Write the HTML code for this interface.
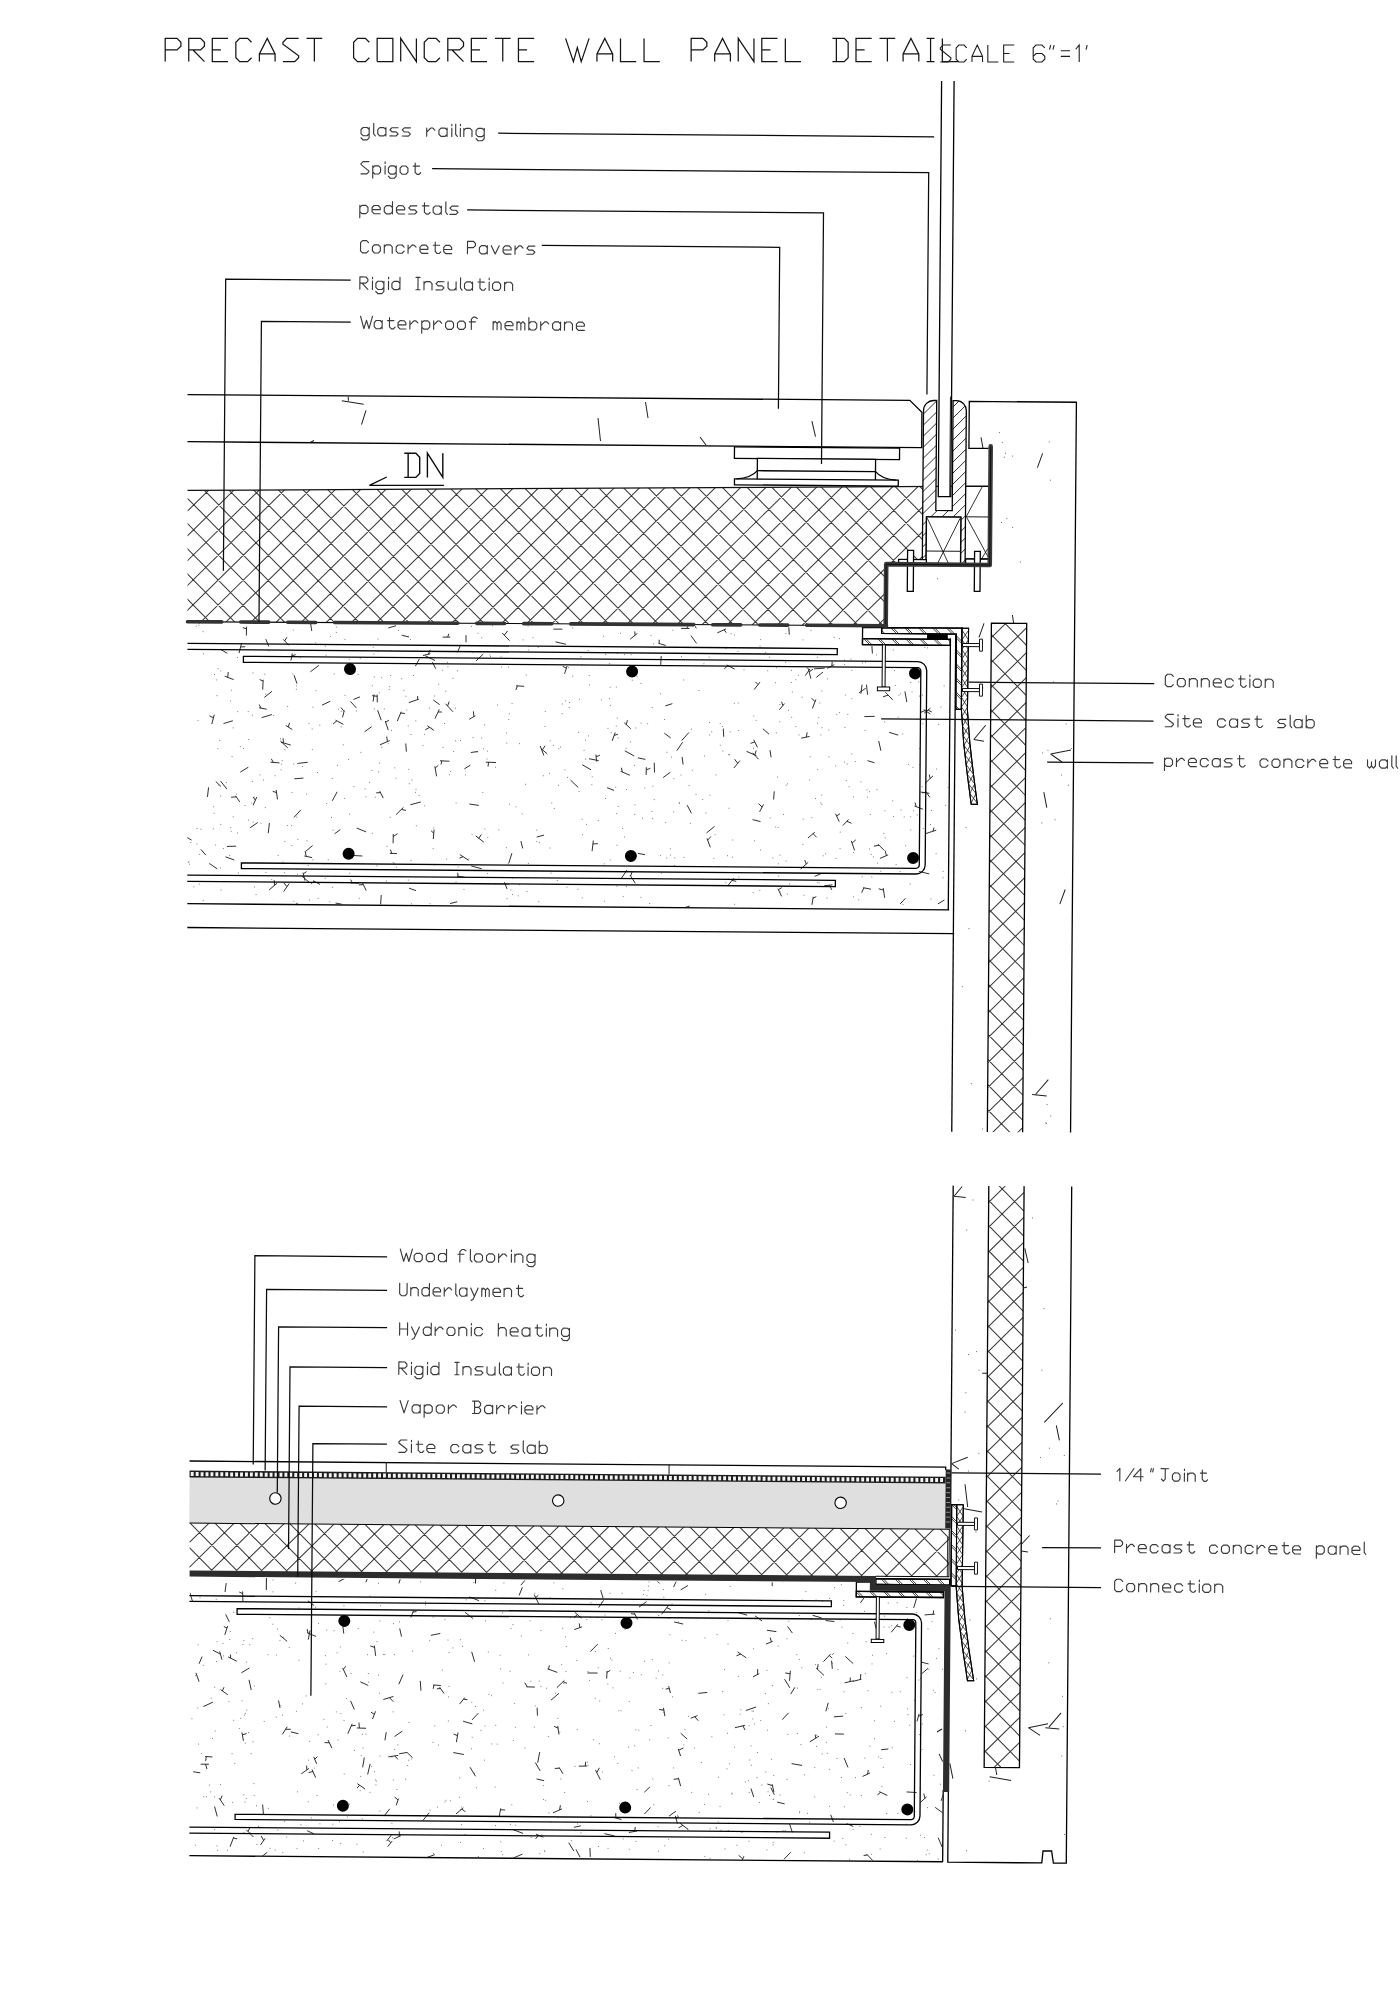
<!DOCTYPE html>
<html><head><meta charset="utf-8"><title>Precast concrete wall panel detail</title>
<style>html,body{margin:0;padding:0;background:#fff;font-family:"Liberation Sans",sans-serif}svg{display:block}</style>
</head><body>
<svg width="1400" height="2000" viewBox="0 0 1400 2000">
<title>Precast concrete wall panel detail</title>
<desc>PRECAST CONCRETE WALL PANEL DETAIL. SCALE 6"=1'. Labels: glass railing, Spigot, pedestals, Concrete Pavers, Rigid Insulation, Waterproof membrane, DN, Connection, Site cast slab, precast concrete wall, Wood flooring, Underlayment, Hydronic heating, Rigid Insulation, Vapor Barrier, Site cast slab, 1/4" Joint, Precast concrete panel, Connection.</desc>
<defs>
<pattern id="xh1" width="25.0" height="25.0" patternUnits="userSpaceOnUse" patternTransform="translate(1002.38 646.37)"><path d="M0 0L25.0 25.0 M25.0 0L0 25.0" stroke="#3c3c3c" stroke-width="1.0" fill="none" stroke-linecap="square"/></pattern>
<pattern id="xhs" width="6.3" height="6.3" patternUnits="userSpaceOnUse" patternTransform="translate(0.00 0.00)"><path d="M0 0L6.3 6.3 M6.3 0L0 6.3" stroke="#222" stroke-width="0.9" fill="none" stroke-linecap="square"/></pattern>
<pattern id="sp" width="7.8" height="7.8" patternUnits="userSpaceOnUse" patternTransform="translate(0.00 0.00) rotate(-45)"><line x1="0" y1="3.9" x2="7.8" y2="3.9" stroke="#222" stroke-width="0.9"/></pattern>
<pattern id="st" width="9.9" height="9.9" patternUnits="userSpaceOnUse" patternTransform="rotate(45)"><line x1="0" y1="3" x2="9.9" y2="3" stroke="#444" stroke-width="0.9"/><line x1="0" y1="5" x2="9.9" y2="5" stroke="#444" stroke-width="0.9"/></pattern>
<clipPath id="hc1"><path d="M183.44 494.52 L918.98 484.73 L919.61 562.53 L882.21 562.83 L882.70 624.23 L184.49 625.81 Z"/></clipPath>
<clipPath id="c1"><path d="M184.50 626.61 L859.01 626.22 L859.16 644.72 L946.66 644.52 L947.47 907.52 L186.54 907.30 Z"/></clipPath>
<clipPath id="hc2"><path d="M918.80 408.63 A10 10 0 0 1 928.80 398.63 L931.90 398.63 L931.90 508.53 L948.30 508.53 L948.30 398.63 L951.60 398.63 A10 10 0 0 1 961.60 408.63 L961.60 562.43 L957.00 562.43 L957.00 515.13 L922.60 515.13 L922.60 562.43 L918.80 562.43 Z"/></clipPath>
<clipPath id="hc3"><path d="M988.38 620.78 L1023.68 620.78 L1023.68 1129.64 L988.38 1129.64 Z"/></clipPath>
<clipPath id="hc4"><path d="M878.71 626.11 L959.11 626.11 L959.11 707.31 L953.41 707.31 L953.41 632.01 L878.71 632.01 Z"/></clipPath>
<clipPath id="hc5"><path d="M859.61 637.31 L947.41 637.31 L947.41 643.41 L859.61 643.41 Z"/></clipPath>
<pattern id="xh2" width="25.0" height="25.0" patternUnits="userSpaceOnUse" patternTransform="translate(328.71 1536.56)"><path d="M0 0L25.0 25.0 M25.0 0L0 25.0" stroke="#3c3c3c" stroke-width="1.0" fill="none" stroke-linecap="square"/></pattern>
<clipPath id="hc6"><path d="M990.28 1183.59 L1025.58 1183.59 L1025.58 1765.00 L990.28 1765.00 Z"/></clipPath>
<clipPath id="hc7"><path d="M193.80 1527.17 L953.53 1527.17 L953.53 1574.97 L193.80 1574.97 Z"/></clipPath>
<clipPath id="c2"><path d="M194.24 1581.56 L860.16 1581.74 L860.28 1596.74 L948.58 1596.53 L949.18 1859.53 L196.26 1859.26 Z"/></clipPath>
<clipPath id="hc8"><path d="M880.35 1577.33 L954.45 1577.33 L954.45 1583.03 L880.35 1583.03 Z"/></clipPath>
<clipPath id="hc9"><path d="M861.05 1590.03 L948.25 1590.03 L948.25 1595.53 L861.05 1595.53 Z"/></clipPath>
<clipPath id="hc10"><path d="M955.63 1502.57 L961.23 1502.57 L961.23 1583.77 L955.63 1583.77 Z"/></clipPath>
</defs>
<rect width="1400" height="2000" fill="#fff"/>
<path d="M404.30 477.40L415.85 477.40L419.70 473.37L419.70 457.25L415.85 453.22L404.30 453.22M408.15 477.40L408.15 453.22M427.40 477.40L427.40 453.22L442.80 477.40L442.80 453.22" stroke="#0a0a0a" stroke-width="1.4" fill="none" stroke-linejoin="miter"/>
<path d="M386.8 477L369.4 485.4L443.9 485.4" stroke="#0a0a0a" stroke-width="1.35" fill="none"/>
<path d="M165.20 61.60L165.20 38.38L176.97 38.38L180.90 42.25L180.90 46.12L176.97 49.99L165.20 49.99M188.75 61.60L188.75 38.38L200.53 38.38L204.45 42.25L204.45 46.12L200.53 49.99L188.75 49.99M193.07 49.99L204.45 61.60M228.00 61.60L212.30 61.60L212.30 38.38L228.00 38.38M212.30 49.99L220.94 49.99M251.55 42.25L247.63 38.38L239.78 38.38L235.85 42.25L235.85 57.73L239.78 61.60L247.63 61.60L251.55 57.73M259.40 61.60L259.40 53.86L267.25 38.38L275.10 53.86L275.10 61.60M259.40 53.86L275.10 53.86M298.65 38.38L286.88 38.38L282.95 42.25L282.95 44.19L298.65 55.80L298.65 57.73L294.73 61.60L282.95 61.60M306.50 38.38L322.20 38.38M314.35 38.38L314.35 61.60M369.30 42.25L365.38 38.38L357.53 38.38L353.60 42.25L353.60 57.73L357.53 61.60L365.38 61.60L369.30 57.73M377.15 61.60L377.15 38.38L392.85 38.38L392.85 61.60L377.15 61.60M400.70 61.60L400.70 38.38L416.40 61.60L416.40 38.38M439.95 42.25L436.03 38.38L428.18 38.38L424.25 42.25L424.25 57.73L428.18 61.60L436.03 61.60L439.95 57.73M447.80 61.60L447.80 38.38L459.58 38.38L463.50 42.25L463.50 46.12L459.58 49.99L447.80 49.99M452.12 49.99L463.50 61.60M487.05 61.60L471.35 61.60L471.35 38.38L487.05 38.38M471.35 49.99L479.99 49.99M494.90 38.38L510.60 38.38M502.75 38.38L502.75 61.60M534.15 61.60L518.45 61.60L518.45 38.38L534.15 38.38M518.45 49.99L527.09 49.99M565.55 38.38L573.40 61.60L577.33 47.67L581.25 61.60L589.10 38.38M596.95 61.60L596.95 53.86L604.80 38.38L612.65 53.86L612.65 61.60M596.95 53.86L612.65 53.86M620.50 38.38L620.50 61.60L636.20 61.60M644.05 38.38L644.05 61.60L659.75 61.60M691.15 61.60L691.15 38.38L702.92 38.38L706.85 42.25L706.85 46.12L702.92 49.99L691.15 49.99M714.70 61.60L714.70 53.86L722.55 38.38L730.40 53.86L730.40 61.60M714.70 53.86L730.40 53.86M738.25 61.60L738.25 38.38L753.95 61.60L753.95 38.38M777.50 61.60L761.80 61.60L761.80 38.38L777.50 38.38M761.80 49.99L770.43 49.99M785.35 38.38L785.35 61.60L801.05 61.60M832.45 61.60L844.22 61.60L848.15 57.73L848.15 42.25L844.22 38.38L832.45 38.38M836.37 61.60L836.37 38.38M871.70 61.60L856.00 61.60L856.00 38.38L871.70 38.38M856.00 49.99L864.63 49.99M879.55 38.38L895.25 38.38M887.40 38.38L887.40 61.60M903.10 61.60L903.10 53.86L910.95 38.38L918.80 53.86L918.80 61.60M903.10 53.86L918.80 53.86M926.65 61.60L934.50 61.60M930.57 61.60L930.57 38.38M926.65 38.38L934.50 38.38M942.35 38.38L942.35 61.60L958.05 61.60" stroke="#151515" stroke-width="1.25" fill="none" stroke-linejoin="miter"/>
<path d="M950.86 45.02L942.94 45.02L940.30 47.85L940.30 49.27L950.86 57.76L950.86 59.17L948.22 62.00L940.30 62.00M966.70 47.85L964.06 45.02L958.78 45.02L956.14 47.85L956.14 59.17L958.78 62.00L964.06 62.00L966.70 59.17M971.98 62.00L971.98 56.34L977.26 45.02L982.54 56.34L982.54 62.00M971.98 56.34L982.54 56.34M987.82 45.02L987.82 62.00L998.38 62.00M1014.22 62.00L1003.66 62.00L1003.66 45.02L1014.22 45.02M1003.66 53.51L1009.47 53.51M1044.80 47.85L1041.90 45.02L1036.10 45.02L1033.20 47.85L1033.20 59.17L1036.10 62.00L1041.90 62.00L1044.80 59.17L1044.80 56.34L1041.90 53.51L1036.10 53.51L1033.20 56.34M1087.18 45.02L1086.03 49.55M1050.68 45.02L1049.53 49.55M1054.13 45.02L1052.98 49.55M1060.80 56.34L1070.00 56.34M1060.80 50.68L1070.00 50.68M1075.75 49.27L1079.20 45.02L1079.20 62.00" stroke="#1e1e1e" stroke-width="1.1" fill="none" stroke-linejoin="miter"/>
<g transform="rotate(0.4584 700.0 1000.0)">
<path clip-path="url(#hc1)" d="M183.44 465.31L919.61 -270.86M183.44 490.31L919.61 -245.86M183.44 515.31L919.61 -220.86M183.44 540.31L919.61 -195.86M183.44 565.31L919.61 -170.86M183.44 590.31L919.61 -145.86M183.44 615.31L919.61 -120.86M183.44 640.31L919.61 -95.86M183.44 665.31L919.61 -70.86M183.44 690.31L919.61 -45.86M183.44 715.31L919.61 -20.86M183.44 740.31L919.61 4.14M183.44 765.31L919.61 29.14M183.44 790.31L919.61 54.14M183.44 815.31L919.61 79.14M183.44 840.31L919.61 104.14M183.44 865.31L919.61 129.14M183.44 890.31L919.61 154.14M183.44 915.31L919.61 179.14M183.44 940.31L919.61 204.14M183.44 965.31L919.61 229.14M183.44 990.31L919.61 254.14M183.44 1015.31L919.61 279.14M183.44 1040.31L919.61 304.14M183.44 1065.31L919.61 329.14M183.44 1090.31L919.61 354.14M183.44 1115.31L919.61 379.14M183.44 1140.31L919.61 404.14M183.44 1165.31L919.61 429.14M183.44 1190.31L919.61 454.14M183.44 1215.31L919.61 479.14M183.44 1240.31L919.61 504.14M183.44 1265.31L919.61 529.14M183.44 1290.31L919.61 554.14M183.44 1315.31L919.61 579.14M183.44 1340.31L919.61 604.14M183.44 1365.31L919.61 629.14M183.44 627.43L919.61 1363.60M183.44 602.43L919.61 1338.60M183.44 577.43L919.61 1313.60M183.44 552.43L919.61 1288.60M183.44 527.43L919.61 1263.60M183.44 502.43L919.61 1238.60M183.44 477.43L919.61 1213.60M183.44 452.43L919.61 1188.60M183.44 427.43L919.61 1163.60M183.44 402.43L919.61 1138.60M183.44 377.43L919.61 1113.60M183.44 352.43L919.61 1088.60M183.44 327.43L919.61 1063.60M183.44 302.43L919.61 1038.60M183.44 277.43L919.61 1013.60M183.44 252.43L919.61 988.60M183.44 227.43L919.61 963.60M183.44 202.43L919.61 938.60M183.44 177.43L919.61 913.60M183.44 152.43L919.61 888.60M183.44 127.43L919.61 863.60M183.44 102.43L919.61 838.60M183.44 77.43L919.61 813.60M183.44 52.43L919.61 788.60M183.44 27.43L919.61 763.60M183.44 2.43L919.61 738.60M183.44 -22.57L919.61 713.60M183.44 -47.57L919.61 688.60M183.44 -72.57L919.61 663.60M183.44 -97.57L919.61 638.60M183.44 -122.57L919.61 613.60M183.44 -147.57L919.61 588.60M183.44 -172.57L919.61 563.60M183.44 -197.57L919.61 538.60M183.44 -222.57L919.61 513.60M183.44 -247.57L919.61 488.60M183.44 -272.57L919.61 463.60" stroke="#3a3a3a" stroke-width="1.05" fill="none"/>
<line x1="183.44" y1="494.52" x2="984.48" y2="483.91" stroke="#111" stroke-width="1.25" />
<path clip-path="url(#c1)" d="M433.08 670.83L429.75 664.34M463.22 644.16L463.05 637.01M236.29 656.82L238.71 646.80M237.79 650.63L242.45 650.37M627.32 639.78L634.41 633.87M632.23 635.69L631.81 631.97M808.30 677.80L805.88 668.56M806.49 670.88L810.43 668.25M590.90 852.02L592.05 841.39M591.67 844.86L596.55 844.44M628.06 775.76L618.89 771.97M620.48 772.62L619.58 768.38M296.28 766.60L305.88 765.41M620.51 878.82L625.92 870.67M632.21 756.56L622.77 751.36M693.70 643.40L688.03 635.67M810.06 707.59L813.46 698.53M812.60 700.81L809.37 697.37M354.07 710.71L348.22 704.42M561.96 674.86L564.43 667.13M563.75 669.26L560.12 667.46M463.53 879.07L455.99 878.06M457.13 878.21L456.63 874.73M319.67 708.22L327.86 704.18M432.26 662.62L422.49 658.00M754.45 755.24L744.52 750.98M610.16 741.56L613.08 733.12M612.05 736.09L615.80 734.94M439.76 639.18L447.37 639.18M444.80 639.18L445.88 635.70M477.17 807.18L467.85 805.87M277.58 766.28L268.68 765.66M271.53 765.86L269.38 762.27M811.37 667.94L822.15 667.16M292.56 782.04L301.64 781.26M841.41 824.44L847.18 818.25M845.44 820.11L850.10 822.08M361.24 858.71L350.84 858.22M806.63 837.16L813.50 831.23M811.72 832.76L815.33 836.34M330.73 803.73L335.54 794.69M449.33 905.56L456.50 903.71M447.51 763.27L438.07 762.84M439.98 762.92L439.12 766.49M883.08 849.01L876.78 842.71M877.94 843.86L872.62 844.76M535.40 838.37L542.77 836.36M205.85 800.88L206.90 791.31M643.46 759.83L635.98 758.35M204.58 859.00L199.74 853.39M288.21 912.40L296.81 906.37M294.88 907.72L298.44 909.50M377.97 747.33L387.72 743.08M385.33 744.12L384.63 739.04M813.62 875.49L820.59 872.45M853.40 849.18L850.02 839.65M850.81 841.87L854.51 838.58M434.78 778.40L433.02 768.41M433.32 770.09L436.43 767.50M576.54 788.44L568.78 781.14M652.69 772.85L652.31 763.09M596.79 761.43L587.16 759.64M904.45 700.42L902.45 689.83M288.24 663.89L289.56 656.72M289.08 659.32L292.92 657.87M780.78 895.75L777.09 888.13M777.52 889.00L780.89 886.97M494.14 764.18L483.81 763.85M486.64 763.94L486.18 768.22M454.59 654.30L458.00 646.68M721.59 736.60L721.14 728.43M268.25 893.42L276.17 886.50M273.64 888.71L273.28 883.66M288.75 748.34L278.87 745.52M281.36 746.23L281.04 741.71M437.29 706.76L431.04 702.21M385.35 630.43L393.08 628.22M351.02 702.23L357.56 699.60M506.18 890.53L503.50 883.87M899.37 902.35L904.62 896.68M661.37 777.87L668.38 772.58M395.82 855.98L388.67 855.86M390.57 855.89L389.22 852.13M689.94 813.37L685.60 805.27M921.94 711.31L928.11 706.35M925.74 708.26L929.49 710.14M285.96 648.61L280.45 642.77M281.82 644.22L284.02 640.57M928.21 795.58L924.12 789.68M924.58 790.34L920.64 791.15M923.43 781.50L931.25 773.96M928.32 776.79L927.46 772.71M394.73 816.89L401.91 809.79M399.89 811.79L404.46 812.75M408.84 807.05L419.29 804.21M308.16 885.23L300.85 879.34M732.02 767.73L737.96 760.35M735.83 762.99L732.68 758.95M589.21 770.71L580.33 765.64M634.33 883.78L629.02 875.58M629.61 876.50L631.25 872.01M468.89 754.37L475.88 753.25M370.70 704.20L371.68 696.99M869.65 652.09L868.84 642.14M799.65 868.23L807.07 861.48M805.16 863.21L803.65 859.23M709.12 847.29L705.68 838.36M706.34 840.07L709.55 836.50M657.98 665.22L658.47 656.29M260.26 693.12L260.59 683.29M260.54 684.58L257.14 683.05M341.73 907.29L334.80 905.89M811.15 903.90L812.42 895.93M812.20 897.33L815.49 895.67M386.09 732.58L383.05 723.55M383.45 724.73L386.78 722.58M550.48 630.35L559.45 630.25M412.75 668.44L416.64 661.15M190.32 844.12L183.78 840.50M727.49 884.76L732.69 878.05M731.04 880.18L735.30 881.07M224.59 657.13L217.52 653.09M374.97 705.00L374.70 697.24M374.76 698.88L369.66 698.34M883.84 896.33L882.32 886.57M882.63 888.59L877.78 887.37M406.13 639.33L398.82 637.62M450.61 713.76L443.16 705.79M445.26 708.03L446.75 703.67M307.82 674.88L316.25 668.42M358.35 885.82L349.55 885.72M351.61 885.74L349.72 882.39M431.67 732.44L425.23 728.03M427.40 729.52L423.09 732.04M391.88 845.72L391.94 836.42M391.92 839.07L396.26 836.04M674.85 750.80L680.57 742.28M285.82 751.25L278.29 744.34M563.11 645.35L552.66 643.02M545.28 755.04L539.15 750.07M540.41 751.09L543.10 746.94M769.15 756.69L767.99 749.62M365.38 893.31L361.75 885.94M362.37 887.20L358.02 887.65M264.38 712.69L256.74 711.32M258.74 711.68L256.82 708.05M921.28 807.48L912.97 804.31M914.67 804.96L913.44 800.81M231.12 683.38L222.15 679.99M225.13 681.11L225.62 675.78M209.59 727.98L211.99 718.55M211.18 721.74L207.17 719.67M928.03 712.09L921.34 707.84M922.80 708.77L918.42 710.61M872.57 761.34L865.63 759.33M882.84 636.49L892.20 635.80M890.46 635.93L893.07 639.47M420.27 657.75L427.69 655.86M425.57 656.40L427.46 651.95M467.00 721.14L473.04 717.58M471.64 718.41L471.05 713.17M766.90 733.69L760.74 728.22M248.83 831.33L256.32 826.04M431.99 841.23L432.75 831.74M432.46 835.36L429.79 832.99M890.29 698.30L882.87 690.74M885.74 693.66L880.59 695.30M759.07 821.12L751.12 819.19M643.83 855.11L636.67 853.90M266.94 836.56L268.02 826.52M878.77 857.01L886.99 853.38M885.20 854.17L884.00 849.27M432.70 720.74L436.96 711.55M435.78 714.10L439.60 714.09M681.22 764.66L680.16 757.09M265.93 649.88L262.95 642.64M937.16 901.99L943.60 898.09M865.16 693.35L863.94 683.32M777.02 709.11L782.18 702.90M780.50 704.93L779.21 701.14M304.02 883.84L302.00 875.78M302.32 877.05L305.56 874.78M680.53 908.92L688.97 906.11M823.37 884.83L831.48 883.80M828.71 884.15L830.89 888.82M238.49 775.80L246.48 770.81M693.26 628.35L689.14 619.42M690.54 622.44L692.94 619.52M381.66 800.66L378.07 793.72M378.84 795.20L374.60 795.42M243.47 639.17L243.59 630.24M243.56 632.38L239.90 631.30M679.57 740.81L686.78 732.56M506.59 642.14L499.25 634.58M501.38 636.78L504.70 632.40M333.31 836.68L338.95 832.48M507.67 864.83L510.73 854.75M308.82 634.11L307.27 624.68M251.57 808.90L255.13 800.62M253.78 803.76L251.64 800.57M482.57 843.90L474.45 837.69M477.57 840.07L479.97 836.31M896.06 733.58L887.00 730.77M304.79 854.22L311.39 848.68M813.74 676.47L820.39 671.03M473.40 662.68L480.47 655.75M219.23 790.28L214.06 785.35M275.94 802.75L274.46 793.36M274.88 796.02L271.09 794.73M462.54 770.77L468.48 767.03M541.88 756.74L538.14 747.17M799.21 737.35L807.45 735.58M804.25 736.27L805.01 731.51M282.78 895.00L288.24 886.77M286.10 890.00L282.81 886.14M238.17 805.63L233.94 799.51M234.62 800.50L229.53 801.05M705.19 832.90L713.13 826.29M379.03 722.82L375.32 712.86M379.84 906.96L380.43 897.61M362.49 734.40L369.47 729.36M395.09 723.54L398.92 714.12M398.39 715.42L402.59 715.83M612.38 791.11L605.46 788.44M668.65 738.21L662.16 733.42M628.57 729.30L622.09 723.39M624.08 725.20L625.19 720.81M928.16 872.04L917.84 869.68M751.64 689.15L757.44 681.62M755.51 684.12L752.86 681.45M678.14 628.58L686.56 628.51M683.95 628.54L685.40 624.46M290.14 732.73L283.59 728.81M286.09 730.31L287.36 726.09M292.53 820.72L299.31 813.04M233.14 863.73L224.28 860.63M644.32 775.33L644.49 767.67M644.44 770.19L648.52 768.79M225.73 850.25L234.93 849.89M294.50 686.96L291.49 678.45M802.67 674.83L807.30 668.06M806.62 669.05L804.27 666.44M756.66 758.75L750.59 752.37M752.79 754.68L754.20 750.11M870.11 887.84L862.18 886.40M863.04 886.56L860.77 891.38M415.15 892.93L408.21 890.53M319.04 887.49L312.17 883.76M313.68 884.58L309.97 886.70M480.76 870.48L470.17 867.82M594.64 762.31L593.97 755.32M594.20 757.67L597.95 755.97M662.86 645.77L655.58 643.67M656.35 643.90L656.29 640.07M714.37 632.75L723.05 628.71M721.12 629.61L723.35 632.47M467.60 862.18L458.69 856.51M461.96 858.59L458.35 860.10M216.17 872.70L208.25 867.39M662.99 706.16L670.02 703.88M340.29 720.21L341.97 713.33M341.76 714.21L338.57 710.33M771.98 798.86L772.59 790.73M786.31 633.99L785.88 626.61M225.22 792.88L218.79 784.82M404.36 754.01L403.75 745.88M221.30 727.40L230.64 724.50M927.76 791.47L918.78 790.26M310.99 860.69L303.22 859.16M305.02 859.52L304.02 854.13M259.40 721.13L269.64 717.97M755.43 746.94L751.67 739.33M752.75 741.51L748.48 742.96M858.43 692.52L859.54 683.46M758.09 811.34L761.90 803.96M760.57 806.53L756.92 803.14M521.49 849.82L519.64 842.54M856.49 691.56L863.25 686.91M824.52 667.37L831.57 663.61M829.15 664.90L829.50 660.76M924.54 831.74L934.84 828.33M931.65 829.38L932.63 825.71M406.52 704.95L416.55 701.37M415.11 701.88L415.28 698.36M521.65 687.76L513.48 687.27M514.93 687.36L513.38 691.38M878.92 749.28L876.62 739.55M364.74 834.57L355.35 830.86M837.85 820.61L834.06 812.65M835.12 814.88L838.45 812.70M732.05 668.86L724.10 664.79M725.20 665.35L721.63 668.60M862.06 715.30L872.39 714.96M261.92 700.94L269.56 694.70M341.16 727.22L333.33 723.14M334.52 723.76L330.95 726.93" stroke="#262626" stroke-width="0.95" fill="none"/>
<path clip-path="url(#c1)" d="M582.97 741.11h0.9M907.76 680.83h0.9M707.05 734.97h0.9M766.20 656.71h0.9M935.94 722.48h0.9M227.82 704.78h0.9M488.97 627.51h0.9M504.33 744.67h0.9M717.55 723.26h0.9M386.82 689.13h0.9M751.88 892.28h0.9M586.64 685.94h0.9M796.41 734.11h0.9M346.05 662.06h0.9M778.39 854.53h0.9M669.03 757.36h0.9M613.35 687.77h0.9M920.21 721.93h0.9M673.26 858.01h0.9M807.80 755.94h0.9M409.83 782.22h0.9M281.41 865.46h0.9M456.62 868.94h0.9M388.90 732.81h0.9M378.43 747.28h0.9M325.83 625.76h0.9M735.35 702.70h0.9M371.59 711.54h0.9M550.86 746.59h0.9M671.76 812.09h0.9M462.66 891.37h0.9M836.04 637.33h0.9M817.75 881.93h0.9M782.52 661.76h0.9M819.73 803.39h0.9M195.45 629.33h0.9M911.68 809.22h0.9M374.99 653.82h0.9M293.43 692.53h0.9M777.09 721.15h0.9M302.56 885.55h0.9M788.41 669.64h0.9M865.31 795.88h0.9M781.63 813.86h0.9M867.84 847.62h0.9M824.43 677.84h0.9M713.80 774.75h0.9M751.06 747.90h0.9M858.74 780.58h0.9M386.33 691.94h0.9M291.44 767.27h0.9M229.67 760.28h0.9M295.31 766.75h0.9M565.33 778.46h0.9M842.36 622.75h0.9M826.56 755.75h0.9M614.75 814.28h0.9M826.19 728.97h0.9M505.75 900.21h0.9M242.99 809.12h0.9M669.41 630.45h0.9M650.73 818.97h0.9M895.46 715.60h0.9M934.19 767.18h0.9M555.86 881.65h0.9M211.51 832.74h0.9M661.84 719.81h0.9M842.28 726.31h0.9M547.26 774.57h0.9M772.41 682.10h0.9M517.00 745.10h0.9M608.61 860.82h0.9M409.36 862.71h0.9M493.19 768.73h0.9M392.46 770.30h0.9M929.40 808.67h0.9M788.99 716.58h0.9M426.62 710.35h0.9M632.90 805.36h0.9M782.42 632.86h0.9M737.42 876.75h0.9M600.23 637.10h0.9M413.21 626.07h0.9M331.04 890.32h0.9M649.92 811.90h0.9M788.10 883.32h0.9M652.16 799.99h0.9M663.84 822.85h0.9M640.53 818.59h0.9M347.66 816.91h0.9M535.10 842.96h0.9M261.75 677.71h0.9M213.99 848.95h0.9M882.93 809.38h0.9M467.33 860.77h0.9M785.40 783.20h0.9M381.54 711.53h0.9M506.54 715.26h0.9M514.07 808.31h0.9M896.63 636.15h0.9M617.08 633.99h0.9M276.54 858.76h0.9M625.07 887.16h0.9M524.67 627.46h0.9M480.74 794.24h0.9M901.71 902.85h0.9M547.70 741.99h0.9M263.33 811.10h0.9M346.30 668.53h0.9M195.85 627.40h0.9M705.97 656.98h0.9M921.50 645.60h0.9M847.73 657.95h0.9M199.21 833.17h0.9M370.53 835.90h0.9M327.10 639.41h0.9M776.20 826.89h0.9M838.40 831.05h0.9M249.75 806.64h0.9M726.18 754.43h0.9M895.94 693.59h0.9M921.39 826.78h0.9M192.73 630.29h0.9M682.34 857.53h0.9M245.50 715.21h0.9M740.92 669.47h0.9M842.01 760.92h0.9M230.45 731.61h0.9M623.69 748.95h0.9M700.77 663.72h0.9M793.20 725.87h0.9M677.48 803.53h0.9M503.78 734.65h0.9M786.05 893.45h0.9M783.95 784.56h0.9M407.22 641.79h0.9M928.71 822.71h0.9M816.05 716.69h0.9M648.47 903.91h0.9M819.63 794.16h0.9M420.43 747.65h0.9M862.48 729.17h0.9M707.88 795.24h0.9M869.57 853.19h0.9M400.15 624.87h0.9M385.66 746.19h0.9M633.47 857.53h0.9M861.18 632.88h0.9M821.60 854.81h0.9M846.97 785.53h0.9M394.89 869.58h0.9M801.32 818.36h0.9M881.96 720.43h0.9M250.17 785.05h0.9M792.84 678.97h0.9M758.51 889.86h0.9M363.95 799.47h0.9M702.10 755.99h0.9M342.20 698.22h0.9M758.91 849.52h0.9M534.95 648.57h0.9M801.17 843.57h0.9M363.00 791.61h0.9M870.37 875.54h0.9M583.26 760.18h0.9M634.07 676.99h0.9M331.14 676.98h0.9M719.72 726.33h0.9M615.57 738.58h0.9M578.96 665.87h0.9M220.31 913.01h0.9M469.62 654.39h0.9M668.57 849.00h0.9M304.51 797.15h0.9M448.36 773.61h0.9M199.76 635.66h0.9M941.64 869.49h0.9M556.35 786.49h0.9M385.38 848.92h0.9M511.16 896.10h0.9M771.27 857.25h0.9M919.68 693.38h0.9M213.35 683.77h0.9M322.08 649.11h0.9M224.19 786.33h0.9M849.35 752.78h0.9M908.78 882.38h0.9M234.34 797.96h0.9M487.47 658.23h0.9M916.50 694.33h0.9M616.15 807.17h0.9M915.26 813.15h0.9M484.97 752.84h0.9M308.09 903.27h0.9M941.16 683.92h0.9M214.06 699.57h0.9M454.65 883.95h0.9M876.09 861.71h0.9M221.70 852.30h0.9M726.90 808.02h0.9M935.98 636.16h0.9M296.21 842.65h0.9M902.28 815.32h0.9M413.33 794.63h0.9M762.49 651.85h0.9M431.73 698.16h0.9M279.82 763.97h0.9M313.16 693.76h0.9M294.77 820.40h0.9M195.27 832.59h0.9M332.93 635.30h0.9M892.30 683.97h0.9M898.59 870.03h0.9M862.38 660.94h0.9M525.45 651.32h0.9M894.57 863.01h0.9M664.47 752.55h0.9M445.13 861.08h0.9M549.79 804.11h0.9M293.43 689.08h0.9M228.92 831.32h0.9M606.54 664.41h0.9M848.95 697.52h0.9M498.53 668.44h0.9M392.77 866.25h0.9M439.60 672.40h0.9M559.35 714.72h0.9M873.35 653.48h0.9M930.79 636.52h0.9M868.42 813.11h0.9M346.20 762.33h0.9M402.98 698.61h0.9M338.66 729.79h0.9M942.42 907.51h0.9M890.03 648.57h0.9M406.88 882.45h0.9M229.52 834.98h0.9M410.20 906.16h0.9M198.08 858.43h0.9M444.42 664.40h0.9M187.38 865.78h0.9M586.19 676.42h0.9M518.18 886.10h0.9M351.84 789.32h0.9M289.75 677.15h0.9M773.46 826.35h0.9M334.26 647.74h0.9M252.09 800.84h0.9M562.66 701.97h0.9M342.60 801.23h0.9M725.86 855.52h0.9M629.22 680.82h0.9M235.80 836.73h0.9M497.04 831.46h0.9M228.11 859.24h0.9M441.70 866.53h0.9M844.72 762.82h0.9M197.87 888.16h0.9M549.65 874.34h0.9M387.57 678.07h0.9M819.35 726.76h0.9M309.59 732.01h0.9M637.89 623.82h0.9M581.63 751.32h0.9M577.68 657.75h0.9M731.09 856.91h0.9M845.07 713.27h0.9M727.49 731.61h0.9M757.37 639.16h0.9M852.12 895.55h0.9M562.70 770.93h0.9M590.00 777.62h0.9M202.01 904.60h0.9M355.09 677.28h0.9M262.91 697.62h0.9M807.53 629.79h0.9M259.21 826.82h0.9M332.88 630.02h0.9M642.65 788.48h0.9M584.58 825.28h0.9M264.48 875.90h0.9M731.22 634.75h0.9M279.01 767.51h0.9M566.70 703.59h0.9M278.04 742.19h0.9M289.85 795.72h0.9M841.32 663.26h0.9M622.78 837.63h0.9M311.27 863.00h0.9M900.24 732.35h0.9M506.75 865.38h0.9M585.94 736.85h0.9M903.97 844.11h0.9M442.85 693.28h0.9M440.66 749.51h0.9M934.49 851.78h0.9M882.29 855.27h0.9M830.84 636.36h0.9M580.94 898.81h0.9M897.44 692.20h0.9M507.53 805.75h0.9M463.27 776.76h0.9M237.84 750.40h0.9M569.17 629.03h0.9M292.59 904.53h0.9M778.66 891.20h0.9M668.98 855.31h0.9M860.79 875.49h0.9M211.70 810.67h0.9M388.33 819.88h0.9M393.86 780.61h0.9M890.71 799.39h0.9M376.38 774.43h0.9M517.08 897.31h0.9M404.07 712.32h0.9M678.31 656.83h0.9M639.62 897.83h0.9M576.61 700.28h0.9M541.09 777.01h0.9M297.51 660.90h0.9M284.90 709.87h0.9M494.84 706.66h0.9M369.90 649.93h0.9M602.75 864.62h0.9M650.69 786.60h0.9M680.66 680.09h0.9M727.04 754.51h0.9M603.54 799.25h0.9M542.52 712.68h0.9M369.34 688.45h0.9M575.86 733.34h0.9M630.88 625.96h0.9M455.04 872.17h0.9M367.28 784.97h0.9M559.58 705.14h0.9M938.12 705.19h0.9M773.47 667.07h0.9M236.97 876.63h0.9M519.83 641.29h0.9M480.95 750.43h0.9M745.35 653.09h0.9M358.00 901.01h0.9M747.91 666.11h0.9M441.94 725.56h0.9M700.68 799.48h0.9M834.41 857.42h0.9M580.74 835.71h0.9M752.85 840.36h0.9M548.40 849.27h0.9M726.71 885.22h0.9M283.10 876.13h0.9M189.06 846.60h0.9M632.12 765.93h0.9M919.86 784.96h0.9M504.65 849.26h0.9M851.29 795.70h0.9M474.63 754.05h0.9M535.03 831.56h0.9M408.38 736.84h0.9M608.60 733.46h0.9M431.48 850.82h0.9M833.34 764.80h0.9M523.20 676.46h0.9M416.30 666.02h0.9M624.37 790.09h0.9M253.20 890.58h0.9M433.04 867.03h0.9M825.69 897.11h0.9M340.86 747.68h0.9M878.76 623.64h0.9M221.49 788.52h0.9M565.57 888.12h0.9M775.38 776.48h0.9M946.88 769.04h0.9M580.23 820.30h0.9M482.01 726.76h0.9M638.56 723.60h0.9M908.78 815.15h0.9M584.97 651.41h0.9M470.59 739.28h0.9M613.60 788.01h0.9M857.51 898.50h0.9M556.36 749.91h0.9M662.85 909.18h0.9M447.13 776.70h0.9M806.89 670.30h0.9M428.93 905.95h0.9M815.41 768.70h0.9M270.37 883.05h0.9M712.25 858.22h0.9M941.57 875.85h0.9M505.48 668.59h0.9M406.38 771.68h0.9M569.64 677.21h0.9M324.62 806.47h0.9M644.98 724.15h0.9M943.67 803.36h0.9M217.22 744.34h0.9M785.65 709.65h0.9M710.99 623.03h0.9M418.23 866.79h0.9M632.79 814.95h0.9M335.18 768.30h0.9M606.72 699.35h0.9M678.72 775.23h0.9M946.09 785.47h0.9M497.93 658.60h0.9M305.35 843.89h0.9M265.59 654.29h0.9M315.31 775.55h0.9M813.44 797.63h0.9M799.55 639.08h0.9M195.30 847.96h0.9M431.95 830.19h0.9M454.36 672.75h0.9M387.64 653.13h0.9M874.95 788.28h0.9M451.23 753.54h0.9M478.36 639.51h0.9M864.80 788.48h0.9M917.17 746.87h0.9M657.75 694.14h0.9M219.69 893.92h0.9M836.84 711.56h0.9M871.69 855.60h0.9M417.08 797.79h0.9M917.61 762.97h0.9M909.16 690.28h0.9M483.05 830.65h0.9M353.63 713.80h0.9M852.95 760.27h0.9M789.41 691.37h0.9M317.17 728.27h0.9M328.57 904.77h0.9M407.08 786.06h0.9M272.88 779.13h0.9M479.12 739.88h0.9M234.21 661.22h0.9M814.89 722.23h0.9M371.31 679.68h0.9M400.91 692.69h0.9M212.16 817.21h0.9M444.85 668.93h0.9M722.77 648.48h0.9M391.67 864.94h0.9M282.52 753.00h0.9M823.94 852.83h0.9M306.29 726.78h0.9M736.08 730.25h0.9M915.71 680.19h0.9M910.70 765.70h0.9M358.44 755.10h0.9M285.53 828.77h0.9M385.02 883.61h0.9M633.14 728.51h0.9M373.28 799.77h0.9M348.17 876.06h0.9M278.86 773.11h0.9M598.60 700.68h0.9M773.70 732.23h0.9M686.97 785.59h0.9M422.02 736.52h0.9M250.04 676.58h0.9M834.03 713.38h0.9M689.90 653.45h0.9M613.61 726.79h0.9M566.44 708.58h0.9M235.00 715.36h0.9M357.04 661.06h0.9M731.46 703.06h0.9M493.85 885.42h0.9M777.33 875.61h0.9M841.43 658.92h0.9M395.04 632.95h0.9M704.06 813.08h0.9M453.07 742.79h0.9M688.45 823.47h0.9M375.48 868.45h0.9M454.10 805.06h0.9M322.86 658.19h0.9M882.04 831.95h0.9M727.77 633.42h0.9M214.88 672.53h0.9M335.83 712.19h0.9M474.58 635.09h0.9M422.69 808.05h0.9M323.01 866.78h0.9M620.67 829.02h0.9M379.33 749.82h0.9M706.92 722.46h0.9M186.66 866.37h0.9M777.08 703.84h0.9M218.74 871.84h0.9M647.52 636.04h0.9M370.76 656.64h0.9M788.32 681.80h0.9M883.45 836.39h0.9M251.31 825.65h0.9M486.05 839.00h0.9M816.95 702.03h0.9M254.79 898.11h0.9M509.62 891.42h0.9M713.38 834.61h0.9M818.70 801.94h0.9M529.58 638.99h0.9M717.73 745.21h0.9M576.68 890.28h0.9M283.14 844.76h0.9M218.95 828.23h0.9M799.35 696.42h0.9M603.12 901.96h0.9M671.66 778.87h0.9M374.64 641.69h0.9M457.95 742.48h0.9M338.38 714.32h0.9M289.81 828.88h0.9M695.99 690.53h0.9M369.60 773.07h0.9M525.70 892.91h0.9M452.84 710.19h0.9M859.31 661.58h0.9M614.52 718.74h0.9M807.38 779.03h0.9M764.64 670.21h0.9M693.92 794.46h0.9M537.63 843.95h0.9M818.42 654.01h0.9M405.58 728.17h0.9M341.63 642.23h0.9M398.75 681.17h0.9M720.35 750.86h0.9M270.95 718.87h0.9M542.40 727.79h0.9M312.41 645.77h0.9M194.53 911.77h0.9M756.76 645.72h0.9M733.41 904.03h0.9M614.30 654.01h0.9M557.99 748.19h0.9M330.06 781.36h0.9M192.45 890.89h0.9M677.18 802.97h0.9M899.07 808.35h0.9M376.38 695.42h0.9M289.84 633.24h0.9M776.80 863.18h0.9M410.50 677.80h0.9M672.80 865.78h0.9M891.43 668.97h0.9M784.55 860.47h0.9M751.12 715.66h0.9M326.70 862.68h0.9M429.11 730.29h0.9M605.35 729.10h0.9M818.88 689.98h0.9M216.77 789.12h0.9M665.19 858.36h0.9M724.41 882.50h0.9M906.09 762.73h0.9M565.48 668.42h0.9M413.90 791.64h0.9M246.79 823.76h0.9M309.87 752.75h0.9M924.14 646.02h0.9M215.48 752.44h0.9M331.24 833.15h0.9M188.07 868.25h0.9M838.40 847.52h0.9M509.25 705.09h0.9M689.98 770.28h0.9M506.14 721.08h0.9M520.24 815.27h0.9M816.35 881.42h0.9M310.16 710.28h0.9M523.41 785.66h0.9M450.04 680.27h0.9M249.62 718.82h0.9M537.56 903.03h0.9M879.31 869.80h0.9M929.63 897.16h0.9M658.81 855.94h0.9M231.34 820.56h0.9M649.44 707.94h0.9M621.94 897.03h0.9M552.27 809.61h0.9M413.15 723.19h0.9M859.37 628.73h0.9M329.64 820.42h0.9M525.50 647.92h0.9M688.78 729.22h0.9M628.06 742.48h0.9M589.65 785.54h0.9M486.66 656.60h0.9M323.76 881.32h0.9M602.45 655.10h0.9M842.39 693.86h0.9M257.67 778.39h0.9M377.04 765.49h0.9M607.22 687.98h0.9M621.21 655.17h0.9M576.90 792.45h0.9M246.15 743.13h0.9M241.06 752.25h0.9M844.07 779.40h0.9M730.96 839.73h0.9M273.72 910.72h0.9M734.79 651.11h0.9M818.33 733.93h0.9M316.87 901.55h0.9M615.36 845.87h0.9M290.16 848.81h0.9M228.45 693.99h0.9M468.12 628.21h0.9M637.93 683.87h0.9M414.46 828.02h0.9M511.05 879.43h0.9M659.94 873.49h0.9M615.63 886.91h0.9M848.76 669.18h0.9M753.53 719.88h0.9M768.18 817.44h0.9M814.21 656.42h0.9M470.29 836.16h0.9M908.98 828.20h0.9M218.58 799.74h0.9M261.28 783.57h0.9M796.94 653.75h0.9M891.57 814.92h0.9M378.69 680.19h0.9M526.80 864.77h0.9M627.83 655.28h0.9M200.24 657.79h0.9M795.33 674.58h0.9M607.54 706.26h0.9M709.16 731.59h0.9M296.06 877.34h0.9M596.39 821.40h0.9M802.81 894.42h0.9M195.31 724.63h0.9M300.31 769.70h0.9M851.96 851.31h0.9M211.47 678.40h0.9M809.90 816.81h0.9M484.61 760.73h0.9M306.71 868.53h0.9M486.17 875.14h0.9M650.23 644.24h0.9M435.72 686.40h0.9M867.44 790.35h0.9M217.69 674.73h0.9" stroke="#606060" stroke-width="0.9" fill="none"/>
<path d="M182.67 398.72 L905.00 398.74 L917.19 410.44 L917.27 445.84 L183.05 445.82" stroke="#000" stroke-width="1.3" fill="none" />
<path d="M337.02 403.68L358.84 406.91M343.38 399.33L343.62 403.63M361.29 413.09L356.91 427.33M593.35 418.83L596.03 441.81M640.72 402.46L643.35 418.43M695.50 437.02L701.56 444.97M305.55 445.64L309.54 443.61M807.27 420.32L810.99 435.69" stroke="#1f1f1f" stroke-width="1.0" fill="none"/>
<rect x="730.07" y="446.54" width="165.10" height="11.60" stroke="#000" stroke-width="1.3" fill="#fff" />
<rect x="753.07" y="457.96" width="118.20" height="21.20" stroke="#000" stroke-width="1.3" fill="#fff" />
<line x1="753.16" y1="470.26" x2="871.37" y2="470.26" stroke="#000" stroke-width="1.3" />
<rect x="730.33" y="478.64" width="163.80" height="5.90" stroke="#000" stroke-width="1.3" fill="#fff" />
<path d="M753.16 470.26 Q747.16 477.64 732.33 478.64" stroke="#000" fill="none" stroke-width="1.2"/>
<path d="M871.37 470.21 Q877.37 477.63 892.14 478.63" stroke="#000" fill="none" stroke-width="1.2"/>
<path d="M918.80 408.63 A10 10 0 0 1 928.80 398.63 L931.90 398.63 L931.90 508.53 L948.30 508.53 L948.30 398.63 L951.60 398.63 A10 10 0 0 1 961.60 408.63 L961.60 562.43 L957.00 562.43 L957.00 515.13 L922.60 515.13 L922.60 562.43 L918.80 562.43 Z" fill="#fff" stroke="none"/>
<path clip-path="url(#hc2)" d="M917.80 379.89L962.60 335.09M917.80 390.99L962.60 346.19M917.80 402.09L962.60 357.29M917.80 413.19L962.60 368.39M917.80 424.29L962.60 379.49M917.80 435.39L962.60 390.59M917.80 446.49L962.60 401.69M917.80 457.59L962.60 412.79M917.80 468.69L962.60 423.89M917.80 479.79L962.60 434.99M917.80 490.89L962.60 446.09M917.80 501.99L962.60 457.19M917.80 513.09L962.60 468.29M917.80 524.19L962.60 479.39M917.80 535.29L962.60 490.49M917.80 546.39L962.60 501.59M917.80 557.49L962.60 512.69M917.80 568.59L962.60 523.79M917.80 579.69L962.60 534.89M917.80 590.79L962.60 545.99M917.80 601.89L962.60 557.09M917.80 612.99L962.60 568.19M917.80 624.09L962.60 579.29" stroke="#1a1a1a" stroke-width="0.9" fill="none"/>
<path d="M918.80 408.63 A10 10 0 0 1 928.80 398.63 L931.90 398.63 L931.90 508.53 L948.30 508.53 L948.30 398.63 L951.60 398.63 A10 10 0 0 1 961.60 408.63 L961.60 562.43 L957.00 562.43 L957.00 515.13 L922.60 515.13 L922.60 562.43 L918.80 562.43 Z" fill="none" stroke="#000" stroke-width="1.3"/>
<rect x="922.60" y="515.13" width="34.4" height="47.3" fill="#fff" stroke="#000" stroke-width="1.3"/>
<path d="M922.60 549.23 L957.00 549.23" stroke="#000" stroke-width="0.9" fill="none" />
<path d="M923.30 516.13 L945.30 562.13" stroke="#000" stroke-width="0.8" fill="none" />
<path d="M956.30 516.13 L933.80 562.13" stroke="#000" stroke-width="0.8" fill="none" />
<path d="M934.24 79.10 L934.24 494.63 L946.74 494.63 L946.74 79.10" stroke="#000" stroke-width="1.3" fill="#fff" />
<path d="M945.64 394.63 L945.64 494.63" stroke="#000" stroke-width="0.8" fill="none" />
<rect x="895.07" y="557.73" width="27.80" height="5.00" stroke="#000" stroke-width="1.3" fill="#fff" />
<rect x="962.06" y="556.69" width="23.60" height="5.40" stroke="#000" stroke-width="1.3" fill="#fff" />
<path d="M962.28 484.19 L984.88 484.19 L984.88 556.69 L962.28 556.69" stroke="#000" stroke-width="0.9" fill="none" />
<path d="M962.28 514.69 L984.88 514.69" stroke="#000" stroke-width="0.9" fill="none" />
<path d="M978.28 484.19 L962.28 514.69" stroke="#000" stroke-width="0.8" fill="none" />
<path d="M962.78 515.19 L984.28 554.19" stroke="#000" stroke-width="0.8" fill="none" />
<path d="M984.28 546.19 L975.28 561.19" stroke="#000" stroke-width="0.8" fill="none" />
<rect x="904.00" y="548.65" width="6.00" height="41.10" stroke="#000" stroke-width="1.3" fill="#fff" />
<rect x="971.00" y="549.22" width="5.70" height="40.00" stroke="#000" stroke-width="1.3" fill="#fff" />
<path d="M984.18 446.16 L964.50 446.16 L964.50 399.26 L1071.61 399.26 L1071.61 1129.64" stroke="#000" stroke-width="1.3" fill="none" />
<path d="M976.49 435.17L978.57 445.75M1038.22 450.68L1033.13 464.92M1009.31 612.51L1010.57 620.50M980.98 621.14L976.09 635.18M983.49 722.92L971.71 737.32M971.71 737.32L981.92 739.04M1068.99 747.04L1048.62 751.20M1048.62 751.20L1060.08 759.11M1042.13 789.36L1045.25 804.93M1064.30 886.58L1059.02 901.22M1048.93 1076.81L1036.44 1091.61M1032.85 1091.94L1047.46 1093.22" stroke="#1f1f1f" stroke-width="1.0" fill="none"/>
<path d="M999.53 454.77h0.9M933.82 576.83h0.9M1069.18 745.63h0.9M1040.25 750.24h0.9M1002.45 516.01h0.9M1007.84 453.62h0.9M1045.52 747.61h0.9M961.77 984.56h0.9M971.58 1081.45h0.9M1045.78 477.38h0.9M911.27 564.53h0.9M1063.50 721.12h0.9M979.81 685.58h0.9M1046.84 1120.74h0.9M1008.38 524.95h0.9M1047.46 1101.76h0.9M1053.20 816.93h0.9M1016.40 559.46h0.9M1039.93 820.22h0.9M1046.39 1119.89h0.9M1044.37 439.04h0.9M997.37 439.96h0.9M1051.24 1113.25h0.9M983.01 1126.67h0.9M994.61 430.22h0.9M997.28 520.07h0.9M1050.64 679.19h0.9M972.06 782.27h0.9M1059.38 772.18h0.9M967.90 926.48h0.9M1066.23 782.27h0.9M964.18 825.46h0.9M1000.67 450.84h0.9" stroke="#4a4a4a" stroke-width="0.9" fill="none"/>
<path clip-path="url(#hc3)" d="M988.38 610.37L1023.68 575.07M988.38 635.37L1023.68 600.07M988.38 660.37L1023.68 625.07M988.38 685.37L1023.68 650.07M988.38 710.37L1023.68 675.07M988.38 735.37L1023.68 700.07M988.38 760.37L1023.68 725.07M988.38 785.37L1023.68 750.07M988.38 810.37L1023.68 775.07M988.38 835.37L1023.68 800.07M988.38 860.37L1023.68 825.07M988.38 885.37L1023.68 850.07M988.38 910.37L1023.68 875.07M988.38 935.37L1023.68 900.07M988.38 960.37L1023.68 925.07M988.38 985.37L1023.68 950.07M988.38 1010.37L1023.68 975.07M988.38 1035.37L1023.68 1000.07M988.38 1060.37L1023.68 1025.07M988.38 1085.37L1023.68 1050.07M988.38 1110.37L1023.68 1075.07M988.38 1135.37L1023.68 1100.07M988.38 1160.37L1023.68 1125.07M988.38 1185.37L1023.68 1150.07M988.38 1132.36L1023.68 1167.66M988.38 1107.36L1023.68 1142.66M988.38 1082.36L1023.68 1117.66M988.38 1057.36L1023.68 1092.66M988.38 1032.36L1023.68 1067.66M988.38 1007.36L1023.68 1042.66M988.38 982.36L1023.68 1017.66M988.38 957.36L1023.68 992.66M988.38 932.36L1023.68 967.66M988.38 907.36L1023.68 942.66M988.38 882.36L1023.68 917.66M988.38 857.36L1023.68 892.66M988.38 832.36L1023.68 867.66M988.38 807.36L1023.68 842.66M988.38 782.36L1023.68 817.66M988.38 757.36L1023.68 792.66M988.38 732.36L1023.68 767.66M988.38 707.36L1023.68 742.66M988.38 682.36L1023.68 717.66M988.38 657.36L1023.68 692.66M988.38 632.36L1023.68 667.66M988.38 607.36L1023.68 642.66M988.38 582.36L1023.68 617.66" stroke="#3a3a3a" stroke-width="1.05" fill="none"/>
<path d="M988.38 1129.64 L988.38 620.78 L1023.68 620.78 L1023.68 1129.64" stroke="#000" stroke-width="1.3" fill="none" />
<path d="M952.81 631.27 L952.81 1129.64" stroke="#000" stroke-width="1.3" fill="none" />
<path d="M947.55 636.61 L947.55 908.01" stroke="#000" stroke-width="1.3" fill="none" />
<line x1="186.55" y1="907.80" x2="948.47" y2="907.80" stroke="#000" stroke-width="1.3" />
<line x1="186.74" y1="931.60" x2="953.66" y2="931.60" stroke="#000" stroke-width="1.3" />
<line x1="184.49" y1="625.81" x2="882.70" y2="624.23" stroke="#000" stroke-width="1.1" />
<path d="M184.66 647.51 L834.48 647.51 L834.48 653.51 L184.71 653.51" stroke="#000" stroke-width="1.3" fill="none" />
<path d="M186.32 879.21 L834.44 879.21 L834.44 885.51 L186.37 885.51" stroke="#000" stroke-width="1.3" fill="none" />
<path d="M240.67 659.96 L915.09 659.96 A9.0 9.0 0 0 1 924.09 668.96 L924.09 863.27 A9.0 9.0 0 0 1 915.09 872.27 L240.36 872.27 L240.32 866.57 L914.99 866.57 A3.2 3.2 0 0 0 918.19 863.37 L918.19 669.16 A3.2 3.2 0 0 0 914.99 665.96 L240.71 665.96 Z" fill="none" stroke="#000" stroke-width="1.3"/>
<circle cx="347.36" cy="671.91" r="6.0" fill="#000" stroke="none" stroke-width="1.0"/>
<circle cx="629.47" cy="672.05" r="6.0" fill="#000" stroke="none" stroke-width="1.0"/>
<circle cx="912.38" cy="671.69" r="6.0" fill="#000" stroke="none" stroke-width="1.0"/>
<circle cx="347.44" cy="856.52" r="6.0" fill="#000" stroke="none" stroke-width="1.0"/>
<circle cx="629.75" cy="856.56" r="6.0" fill="#000" stroke="none" stroke-width="1.0"/>
<circle cx="911.96" cy="856.30" r="6.0" fill="#000" stroke="none" stroke-width="1.0"/>
<path d="M878.71 626.11 L959.11 626.11 L959.11 707.31 L953.41 707.31 L953.41 632.01 L878.71 632.01 Z" stroke="#000" stroke-width="1.3" fill="#fff" />
<path clip-path="url(#hc4)" d="M877.71 728.21L960.11 810.61M877.71 726.01L960.11 808.41M877.71 714.21L960.11 796.61M877.71 712.01L960.11 794.41M877.71 700.21L960.11 782.61M877.71 698.01L960.11 780.41M877.71 686.21L960.11 768.61M877.71 684.01L960.11 766.41M877.71 672.21L960.11 754.61M877.71 670.01L960.11 752.41M877.71 658.21L960.11 740.61M877.71 656.01L960.11 738.41M877.71 644.21L960.11 726.61M877.71 642.01L960.11 724.41M877.71 630.21L960.11 712.61M877.71 628.01L960.11 710.41M877.71 616.21L960.11 698.61M877.71 614.01L960.11 696.41M877.71 602.21L960.11 684.61M877.71 600.01L960.11 682.41M877.71 588.21L960.11 670.61M877.71 586.01L960.11 668.41M877.71 574.21L960.11 656.61M877.71 572.01L960.11 654.41M877.71 560.21L960.11 642.61M877.71 558.01L960.11 640.41M877.71 546.21L960.11 628.61M877.71 544.01L960.11 626.41M877.71 532.21L960.11 614.61M877.71 530.01L960.11 612.41M877.71 518.21L960.11 600.61M877.71 516.01L960.11 598.41" stroke="#2a2a2a" stroke-width="0.9" fill="none"/>
<path d="M878.71 626.11 L959.11 626.11 L959.11 707.31 L953.41 707.31 L953.41 632.01 L878.71 632.01 Z" stroke="#000" stroke-width="1.3" fill="none" />
<path d="M859.61 637.31 L947.41 637.31 L947.41 643.41 L859.61 643.41 Z" stroke="#000" stroke-width="1.3" fill="#fff" />
<path clip-path="url(#hc5)" d="M858.61 663.11L948.41 752.91M858.61 660.91L948.41 750.71M858.61 649.11L948.41 738.91M858.61 646.91L948.41 736.71M858.61 635.11L948.41 724.91M858.61 632.91L948.41 722.71M858.61 621.11L948.41 710.91M858.61 618.91L948.41 708.71M858.61 607.11L948.41 696.91M858.61 604.91L948.41 694.71M858.61 593.11L948.41 682.91M858.61 590.91L948.41 680.71M858.61 579.11L948.41 668.91M858.61 576.91L948.41 666.71M858.61 565.11L948.41 654.91M858.61 562.91L948.41 652.71M858.61 551.11L948.41 640.91M858.61 548.91L948.41 638.71M858.61 537.11L948.41 626.91M858.61 534.91L948.41 624.71M858.61 523.11L948.41 612.91M858.61 520.91L948.41 610.71" stroke="#2a2a2a" stroke-width="0.9" fill="none"/>
<path d="M859.61 637.31 L947.41 637.31 L947.41 643.41 L859.61 643.41 Z" stroke="#000" stroke-width="1.3" fill="none" />
<path d="M878.71 626.11 L859.61 626.11 L859.61 637.31" stroke="#000" stroke-width="1.3" fill="none" />
<path d="M924.11 632.31 L944.91 632.31 L944.91 637.11 L924.11 637.11 Z" stroke="none" stroke-width="0" fill="#000" />
<path d="M952.71 632.01 L952.71 638.11" stroke="#000" stroke-width="0.9" fill="none" />
<path d="M959.11 626.11 L959.11 708.11 L961.61 741.11 L965.31 771.11 L969.61 802.11 L975.81 802.11 L971.51 771.11 L967.81 741.11 L965.11 708.11 L965.61 626.11 Z" stroke="#000" stroke-width="1.0" fill="#fff" />
<path d="M959.11 628.11L965.54 637.71M965.60 628.11L959.11 637.71M959.11 637.71L965.48 647.31M965.54 637.71L959.11 647.31M959.11 647.31L965.43 656.91M965.48 647.31L959.11 656.91M959.11 656.91L965.37 666.51M965.43 656.91L959.11 666.51M959.11 666.51L965.31 676.11M965.37 666.51L959.11 676.11M959.11 676.11L965.25 685.71M965.31 676.11L959.11 685.71M959.11 685.71L965.19 695.31M965.25 685.71L959.11 695.31M959.11 695.31L965.13 704.91M965.19 695.31L959.11 704.91M959.11 704.91L965.64 714.51M965.13 704.91L959.60 714.51M959.60 714.51L966.42 724.11M965.64 714.51L960.33 724.11M960.33 724.11L967.21 733.71M966.42 724.11L961.05 733.71M961.05 733.71L968.09 743.31M967.21 733.71L961.89 743.31M961.89 743.31L969.27 752.91M968.09 743.31L963.07 752.91M963.07 752.91L970.45 762.51M969.27 752.91L964.25 762.51M964.25 762.51L971.65 772.11M970.45 762.51L965.45 772.11M965.45 772.11L972.98 781.71M971.65 772.11L966.78 781.71M966.78 781.71L974.32 791.31M972.98 781.71L968.12 791.31M968.12 791.31L975.65 800.91M974.32 791.31L969.45 800.91" stroke="#222" stroke-width="0.8" fill="none"/>
<path d="M959.11 626.11 L959.11 708.11 L961.61 741.11 L965.31 771.11 L969.61 802.11 L975.81 802.11 L971.51 771.11 L967.81 741.11 L965.11 708.11 L965.61 626.11 Z" stroke="#000" stroke-width="1.1" fill="none" />
<rect x="879.55" y="643.25" width="3.00" height="42.30" stroke="#000" stroke-width="1.0" fill="#fff" />
<rect x="874.89" y="685.59" width="12.30" height="3.70" stroke="#000" stroke-width="1.0" fill="#fff" />
<rect x="959.65" y="641.36" width="17.00" height="3.1" fill="#fff" stroke="#000" stroke-width="0.95"/>
<rect x="976.65" y="636.91" width="3.0" height="12" fill="#fff" stroke="#000" stroke-width="0.9"/>
<rect x="960.01" y="686.36" width="17.00" height="3.1" fill="#fff" stroke="#000" stroke-width="0.95"/>
<rect x="977.01" y="681.91" width="3.0" height="12" fill="#fff" stroke="#000" stroke-width="0.9"/>
<path d="M986.26 444.09 L986.26 562.69 L882.70 562.69 L882.70 624.23" stroke="#3a3a3a" stroke-width="4.6" fill="none" stroke-linejoin="round" stroke-linecap="round"/>
<path d="M986.26 444.09 L986.26 562.69 L882.70 562.69 L882.70 624.23" stroke="#111" stroke-width="1" fill="none"/>
<path d="M184.49 625.81L218.69 625.73M237.69 625.69L265.69 625.63M284.69 625.58L312.69 625.52M331.69 625.48L454.69 625.20M473.69 625.16L501.69 625.09M520.69 625.05L548.70 624.98M567.70 624.94L690.70 624.66M709.70 624.62L737.70 624.56M756.70 624.51L784.70 624.45M803.70 624.41L883.50 624.22" stroke="#333" stroke-width="3.6" fill="none" stroke-linecap="round"/>
<path d="M954.68 1183.59 L954.68 1502.57" stroke="#000" stroke-width="1.3" fill="none" />
<path d="M954.68 1789.98 L954.68 1860.17 L1048.69 1860.17 L1049.79 1848.17 L1058.39 1848.17 L1060.29 1860.17 L1073.18 1860.17 L1073.18 1183.59" stroke="#000" stroke-width="1.3" fill="none" />
<path clip-path="url(#hc6)" d="M990.28 1174.99L1025.58 1139.69M990.28 1199.99L1025.58 1164.69M990.28 1224.99L1025.58 1189.69M990.28 1249.99L1025.58 1214.69M990.28 1274.99L1025.58 1239.69M990.28 1299.99L1025.58 1264.69M990.28 1324.99L1025.58 1289.69M990.28 1349.99L1025.58 1314.69M990.28 1374.99L1025.58 1339.69M990.28 1399.99L1025.58 1364.69M990.28 1424.99L1025.58 1389.69M990.28 1449.99L1025.58 1414.69M990.28 1474.99L1025.58 1439.69M990.28 1499.99L1025.58 1464.69M990.28 1524.99L1025.58 1489.69M990.28 1549.99L1025.58 1514.69M990.28 1574.99L1025.58 1539.69M990.28 1599.99L1025.58 1564.69M990.28 1624.99L1025.58 1589.69M990.28 1649.99L1025.58 1614.69M990.28 1674.99L1025.58 1639.69M990.28 1699.99L1025.58 1664.69M990.28 1724.99L1025.58 1689.69M990.28 1749.99L1025.58 1714.69M990.28 1774.99L1025.58 1739.69M990.28 1799.99L1025.58 1764.69M990.28 1824.99L1025.58 1789.69M990.28 1773.13L1025.58 1808.43M990.28 1748.13L1025.58 1783.43M990.28 1723.13L1025.58 1758.43M990.28 1698.13L1025.58 1733.43M990.28 1673.13L1025.58 1708.43M990.28 1648.13L1025.58 1683.43M990.28 1623.13L1025.58 1658.43M990.28 1598.13L1025.58 1633.43M990.28 1573.13L1025.58 1608.43M990.28 1548.13L1025.58 1583.43M990.28 1523.13L1025.58 1558.43M990.28 1498.13L1025.58 1533.43M990.28 1473.13L1025.58 1508.43M990.28 1448.13L1025.58 1483.43M990.28 1423.13L1025.58 1458.43M990.28 1398.13L1025.58 1433.43M990.28 1373.13L1025.58 1408.43M990.28 1348.13L1025.58 1383.43M990.28 1323.13L1025.58 1358.43M990.28 1298.13L1025.58 1333.43M990.28 1273.13L1025.58 1308.43M990.28 1248.13L1025.58 1283.43M990.28 1223.13L1025.58 1258.43M990.28 1198.13L1025.58 1233.43M990.28 1173.13L1025.58 1208.43M990.28 1148.13L1025.58 1183.43" stroke="#3a3a3a" stroke-width="1.05" fill="none"/>
<path d="M990.28 1183.59 L990.28 1765.00 L1025.58 1765.00 L1025.58 1183.59" stroke="#000" stroke-width="1.3" fill="none" />
<path d="M963.68 1184.40L955.56 1194.16M955.56 1194.16L967.27 1195.27M1026.78 1245.69L1030.29 1260.37M1065.91 1400.29L1047.67 1419.63M1059.69 1422.54L1062.91 1437.51M971.35 1455.14L955.30 1461.57M955.30 1461.57L962.54 1467.01M985.18 1370.93L990.48 1370.89M1025.79 1285.40L1029.29 1284.37M968.87 1482.16L971.75 1504.84M968.16 1506.67L986.09 1509.73M1033.87 1532.85L1025.65 1541.91M1025.70 1548.41L1032.31 1549.46M1066.79 1709.99L1054.71 1724.29M1053.78 1720.99L1034.21 1725.05M1034.21 1725.05L1045.87 1732.66M1051.21 1724.91L1065.12 1726.00M1001.53 1764.61L1002.99 1772.60M995.81 1774.46L1017.33 1777.89M271.04 1581.45L271.03 1593.45M480.23 1579.78L480.18 1585.28M945.12 1751.96L948.78 1759.63M955.90 1761.38L959.12 1776.55M942.85 1730.08L947.82 1727.04" stroke="#1f1f1f" stroke-width="1.0" fill="none"/>
<path d="M1061.58 1498.18h0.9M979.74 1529.73h0.9M968.58 1390.54h0.9M970.90 1728.70h0.9M1033.70 1215.31h0.9M1070.69 1831.52h0.9M974.07 1197.83h0.9M978.92 1349.40h0.9M962.33 1497.83h0.9M1072.57 1852.17h0.9M1053.56 1660.01h0.9M1043.71 1454.73h0.9M1052.55 1445.38h0.9M1067.38 1753.09h0.9M957.69 1328.04h0.9M1060.06 1501.09h0.9M1067.45 1452.55h0.9M967.98 1608.35h0.9M1044.37 1367.47h0.9M967.96 1410.04h0.9M1067.57 1693.45h0.9M970.93 1352.43h0.9M968.05 1227.87h0.9M1045.93 1305.93h0.9M981.59 1676.67h0.9M974.49 1617.83h0.9M971.69 1468.91h0.9M981.58 1367.98h0.9M1068.57 1723.75h0.9M995.00 1778.75h0.9M982.01 1451.13h0.9M1054.77 1615.93h0.9M972.94 1848.70h0.9" stroke="#4a4a4a" stroke-width="0.9" fill="none"/>
<rect x="193.44" y="1481.57" width="756.00" height="45.8" fill="#dfdfdf" stroke="none"/>
<path clip-path="url(#hc7)" d="M193.80 1521.47L953.53 761.74M193.80 1546.47L953.53 786.74M193.80 1571.47L953.53 811.74M193.80 1596.47L953.53 836.74M193.80 1621.47L953.53 861.74M193.80 1646.47L953.53 886.74M193.80 1671.47L953.53 911.74M193.80 1696.47L953.53 936.74M193.80 1721.47L953.53 961.74M193.80 1746.47L953.53 986.74M193.80 1771.47L953.53 1011.74M193.80 1796.47L953.53 1036.74M193.80 1821.47L953.53 1061.74M193.80 1846.47L953.53 1086.74M193.80 1871.47L953.53 1111.74M193.80 1896.47L953.53 1136.74M193.80 1921.47L953.53 1161.74M193.80 1946.47L953.53 1186.74M193.80 1971.47L953.53 1211.74M193.80 1996.47L953.53 1236.74M193.80 2021.47L953.53 1261.74M193.80 2046.47L953.53 1286.74M193.80 2071.47L953.53 1311.74M193.80 2096.47L953.53 1336.74M193.80 2121.47L953.53 1361.74M193.80 2146.47L953.53 1386.74M193.80 2171.47L953.53 1411.74M193.80 2196.47L953.53 1436.74M193.80 2221.47L953.53 1461.74M193.80 2246.47L953.53 1486.74M193.80 2271.47L953.53 1511.74M193.80 2296.47L953.53 1536.74M193.80 2321.47L953.53 1561.74M193.80 2346.47L953.53 1586.74M193.80 1576.65L953.53 2336.38M193.80 1551.65L953.53 2311.38M193.80 1526.65L953.53 2286.38M193.80 1501.65L953.53 2261.38M193.80 1476.65L953.53 2236.38M193.80 1451.65L953.53 2211.38M193.80 1426.65L953.53 2186.38M193.80 1401.65L953.53 2161.38M193.80 1376.65L953.53 2136.38M193.80 1351.65L953.53 2111.38M193.80 1326.65L953.53 2086.38M193.80 1301.65L953.53 2061.38M193.80 1276.65L953.53 2036.38M193.80 1251.65L953.53 2011.38M193.80 1226.65L953.53 1986.38M193.80 1201.65L953.53 1961.38M193.80 1176.65L953.53 1936.38M193.80 1151.65L953.53 1911.38M193.80 1126.65L953.53 1886.38M193.80 1101.65L953.53 1861.38M193.80 1076.65L953.53 1836.38M193.80 1051.65L953.53 1811.38M193.80 1026.65L953.53 1786.38M193.80 1001.65L953.53 1761.38M193.80 976.65L953.53 1736.38M193.80 951.65L953.53 1711.38M193.80 926.65L953.53 1686.38M193.80 901.65L953.53 1661.38M193.80 876.65L953.53 1636.38M193.80 851.65L953.53 1611.38M193.80 826.65L953.53 1586.38M193.80 801.65L953.53 1561.38M193.80 776.65L953.53 1536.38M193.80 751.65L953.53 1511.38" stroke="#3a3a3a" stroke-width="1.05" fill="none"/>
<path d="M193.80 1527.17 L953.53 1527.17 L953.53 1574.77 L880.31 1574.77" stroke="#000" stroke-width="1.0" fill="none" />
<path d="M951.93 1535.17 L951.93 1574.77" stroke="#000" stroke-width="0.8" fill="none" />
<path d="M193.30 1465.07 L949.43 1465.07 L949.43 1468.07" stroke="#000" stroke-width="1.3" fill="none" />
<path d="M390.01 1465.07 L390.01 1474.67" stroke="#000" stroke-width="0.9" fill="none" />
<path d="M672.82 1465.07 L672.82 1474.67" stroke="#000" stroke-width="0.9" fill="none" />
<rect x="193.38" y="1474.67" width="756.05" height="6.9" fill="#1c1c1c" stroke="none"/>
<line x1="194.58" y1="1478.12" x2="948.43" y2="1478.12" stroke="#f4f4f4" stroke-width="4.0" stroke-dasharray="2.9 2.03"/>
<rect x="949.45" y="1467.52" width="5.4" height="59" fill="#222" stroke="none"/>
<line x1="952.15" y1="1470.52" x2="952.15" y2="1524.52" stroke="#999" stroke-width="3.6" stroke-dasharray="1 3.9"/>
<circle cx="279.40" cy="1501.88" r="5.7" fill="#fff" stroke="#000" stroke-width="1.1"/>
<circle cx="562.21" cy="1501.72" r="5.7" fill="#fff" stroke="#000" stroke-width="1.1"/>
<circle cx="844.62" cy="1501.66" r="5.7" fill="#fff" stroke="#000" stroke-width="1.1"/>
<path clip-path="url(#c2)" d="M321.90 1780.71L318.23 1772.58M319.14 1774.60L314.75 1775.67M370.49 1584.84L374.17 1576.25M373.18 1578.56L377.87 1579.95M947.60 1798.88L950.13 1790.49M606.52 1780.36L601.67 1770.76M602.95 1773.29L605.55 1768.61M612.08 1679.33L612.45 1671.59M612.38 1673.12L615.64 1670.99M808.15 1764.57L797.69 1762.89M249.39 1744.47L247.81 1736.07M248.27 1738.51L252.36 1737.14M540.42 1688.35L531.88 1688.21M532.78 1688.22L530.16 1684.04M197.33 1605.36L194.54 1596.71M432.53 1860.11L441.61 1856.75M829.38 1674.39L821.52 1667.10M822.83 1668.32L823.43 1663.22M481.74 1778.06L476.18 1769.04M508.63 1861.06L499.34 1859.93M562.35 1688.81L569.84 1681.45M568.51 1682.75L572.51 1684.38M242.08 1664.94L233.45 1660.65M236.02 1661.93L235.63 1658.31M879.62 1859.09L873.39 1852.70M874.32 1853.65L870.42 1854.12M798.97 1831.59L796.24 1823.33M837.70 1667.73L836.83 1659.67M206.45 1776.82L199.43 1775.80M684.01 1823.77L681.91 1816.02M682.69 1818.90L685.11 1816.11M209.08 1710.51L218.55 1706.02M288.29 1737.64L292.99 1729.99M291.39 1732.59L296.61 1732.54M760.14 1796.59L757.25 1788.05M236.84 1850.44L240.46 1840.63M240.06 1841.72L243.95 1842.49M650.70 1792.60L656.18 1787.30M948.92 1810.68L941.62 1805.48M607.85 1598.85L605.42 1590.92M418.61 1760.02L413.00 1754.67M435.96 1637.45L445.39 1635.49M854.13 1766.26L850.17 1756.83M580.73 1852.06L575.47 1843.76M580.50 1828.30L587.43 1826.74M227.28 1663.49L224.89 1655.21M796.28 1693.32L800.36 1686.54M685.40 1589.97L692.67 1585.58M360.01 1712.27L356.18 1703.60M650.89 1814.44L656.95 1807.90M426.48 1692.95L425.73 1683.13M321.19 1639.55L312.06 1635.79M313.13 1636.23L312.19 1632.23M751.53 1710.14L761.73 1706.53M352.29 1679.77L348.10 1670.99M348.72 1672.27L351.14 1669.08M307.51 1777.02L315.11 1771.51M312.99 1773.05L312.77 1768.77M546.36 1772.18L541.45 1763.85M267.49 1861.01L274.04 1855.76M850.18 1681.66L859.24 1679.49M855.64 1680.35L855.70 1676.37M603.46 1608.35L608.44 1601.07M478.14 1620.42L469.97 1614.16M229.89 1638.62L232.65 1629.84M232.03 1631.82L228.84 1630.29M260.09 1840.56L253.06 1833.40M254.74 1835.11L256.61 1830.96M569.15 1774.90L565.15 1768.43M565.69 1769.29L560.94 1769.58M247.72 1604.77L247.36 1595.06M247.44 1597.24L243.96 1595.67M402.68 1807.73L404.90 1800.95M404.47 1802.26L401.07 1799.60M740.77 1727.42L750.77 1724.91M748.67 1725.43L750.84 1729.61M678.31 1587.26L681.89 1579.09M525.56 1586.54L530.18 1580.98M686.64 1756.22L684.26 1749.17M684.64 1750.31L689.53 1748.06M204.59 1685.71L201.30 1676.88M688.12 1624.16L679.19 1622.18M353.34 1869.23L351.61 1859.28M858.54 1680.10L866.87 1677.88M865.82 1678.16L866.19 1672.69M922.95 1790.75L913.00 1790.26M353.67 1736.57L358.01 1726.51M357.11 1728.60L361.42 1728.08M780.71 1794.10L777.05 1786.97M477.84 1721.69L483.99 1714.92M223.79 1820.29L221.05 1810.45M747.50 1863.74L750.74 1855.80M749.64 1858.51L745.47 1854.92M371.06 1791.40L363.63 1786.43M365.86 1787.92L363.40 1790.78M462.32 1744.13L463.92 1734.39M463.40 1737.56L459.46 1735.97M791.11 1803.18L783.51 1801.44M865.26 1601.61L870.67 1593.76M869.56 1595.38L867.89 1590.94M586.37 1619.08L579.61 1613.16M582.30 1615.51L578.92 1618.56M828.74 1660.61L835.73 1653.04M834.42 1654.47L837.51 1656.94M564.87 1735.62L563.54 1726.99M563.89 1729.29L559.98 1727.49M686.91 1786.27L684.57 1777.83M684.87 1778.92L679.85 1779.46M758.38 1676.46L764.62 1673.17M762.98 1674.03L763.01 1668.60M343.12 1584.61L349.81 1580.98M322.76 1766.86L319.82 1759.97M320.78 1762.23L323.46 1759.72M643.85 1607.65L651.31 1602.09M584.99 1767.13L593.19 1766.90M591.33 1766.95L591.82 1762.64M233.35 1698.49L226.02 1693.39M227.91 1694.71L229.49 1691.02M391.08 1817.94L396.30 1811.25M393.38 1843.62L397.89 1837.68M559.47 1814.06L568.44 1809.91M566.04 1811.02L566.86 1806.27M373.75 1688.09L365.82 1684.52M670.62 1716.41L669.13 1708.08M669.53 1710.33L664.84 1709.77M776.90 1585.57L776.83 1577.91M776.85 1579.44L780.97 1578.79M368.83 1770.00L370.38 1760.18M479.93 1663.56L476.92 1653.68M562.71 1673.52L552.93 1670.05M553.91 1670.40L554.70 1666.48M446.34 1687.61L438.69 1687.04M439.49 1687.10L438.73 1690.95M771.24 1643.45L777.83 1640.81M776.58 1641.31L775.26 1637.01M586.87 1858.05L582.78 1850.34M415.83 1619.72L418.47 1612.65M417.79 1614.47L421.42 1613.68M246.80 1676.49L254.73 1671.57M858.57 1662.43L850.54 1655.20M403.61 1585.83L406.47 1576.08M550.14 1838.37L542.64 1835.43M545.18 1836.43L542.29 1840.21M318.77 1608.51L312.67 1603.91M230.72 1809.40L225.57 1802.00M226.78 1803.73L228.57 1799.44M840.04 1820.86L837.17 1813.74M267.29 1848.42L271.83 1841.81M270.41 1843.87L267.85 1839.47M893.72 1590.35L898.39 1583.96M781.47 1631.02L772.08 1629.72M550.35 1781.88L542.79 1780.28M523.86 1596.88L527.13 1588.56M621.19 1836.55L611.15 1834.40M664.25 1583.54L656.11 1576.20M744.91 1579.05L735.07 1575.43M918.49 1606.15L921.62 1595.67M788.07 1718.95L794.30 1712.09M933.91 1662.06L926.54 1660.34M692.99 1739.06L686.57 1733.37M478.09 1725.69L468.89 1723.06M543.18 1716.96L542.79 1709.01M406.61 1638.94L404.76 1630.89M556.53 1701.40L564.48 1694.41M348.85 1636.41L347.47 1625.66M347.85 1628.60L351.86 1625.61M595.59 1652.44L602.82 1644.88M666.55 1614.57L673.13 1605.92M671.59 1607.94L675.76 1609.69M926.61 1800.84L933.02 1794.93M931.28 1796.53L930.17 1791.78M204.39 1667.76L207.32 1660.55M949.02 1845.32L944.89 1835.75M635.57 1833.01L643.87 1831.43M641.21 1831.94L641.96 1827.47M320.56 1836.91L313.82 1833.83M881.49 1628.34L879.40 1620.35M887.12 1748.22L894.29 1747.46M815.81 1740.97L824.92 1735.10M821.73 1737.16L821.09 1733.63M337.84 1750.90L334.00 1742.99M335.30 1745.67L330.46 1745.60M579.27 1630.60L587.09 1627.69M584.90 1628.50L584.22 1624.39M751.52 1657.45L742.67 1651.51M745.97 1653.72L741.79 1655.48M831.50 1710.24L833.91 1701.77M405.22 1756.18L413.07 1754.76M780.24 1791.40L778.40 1783.65M778.73 1785.03L773.58 1783.46M529.69 1834.75L519.80 1831.20M429.29 1822.88L435.75 1814.86M218.49 1760.84L211.23 1760.42M212.41 1760.49L211.70 1764.87M927.37 1671.71L933.44 1666.44M304.32 1736.88L296.71 1735.17M597.12 1857.73L596.74 1848.77M766.96 1620.37L759.95 1615.40M922.75 1719.62L924.81 1711.98M924.11 1714.57L928.54 1712.72M449.55 1695.45L445.05 1689.10M446.06 1690.53L442.40 1690.95M404.49 1862.23L395.04 1859.86M378.24 1721.71L381.26 1713.89M380.07 1716.97L376.71 1714.71M870.61 1590.43L871.12 1579.63M871.01 1582.07L865.91 1580.53M394.37 1759.36L404.22 1757.78M400.78 1758.33L403.98 1761.77M225.70 1657.98L218.10 1654.06M790.77 1858.66L797.48 1851.55M794.95 1680.15L795.76 1670.04M795.52 1673.05L790.61 1672.21M592.80 1673.86L602.99 1673.84M675.94 1693.19L674.19 1686.41M674.80 1688.75L671.19 1689.28M826.46 1616.91L817.51 1614.38M675.50 1816.42L682.32 1811.40M234.28 1625.52L230.64 1618.25M404.28 1686.70L408.42 1677.08M859.90 1825.21L853.33 1822.42M380.91 1658.44L379.54 1648.18M379.79 1649.99L375.44 1648.48M229.77 1595.77L230.88 1586.86M839.30 1620.46L830.61 1619.50M371.85 1730.95L362.68 1730.69M365.18 1730.76L364.77 1725.32M394.48 1849.07L398.92 1843.56M397.58 1845.22L395.04 1842.30M543.81 1764.08L545.75 1753.33M462.54 1815.82L469.90 1809.64M468.30 1810.99L471.91 1813.64M483.71 1602.36L474.14 1598.73M849.71 1732.94L840.82 1732.79M256.73 1693.43L254.46 1683.41M795.36 1687.13L789.99 1678.48M206.79 1768.17L215.00 1768.17M211.79 1768.17L213.06 1772.95M373.87 1777.15L376.23 1766.51M313.42 1642.70L315.06 1633.57M703.92 1693.33L712.79 1692.35M642.47 1619.88L639.28 1613.64M639.82 1614.68L635.95 1614.21M893.71 1793.92L885.47 1790.16M887.00 1790.85L883.67 1793.57M390.86 1742.86L392.10 1734.73M519.57 1859.71L529.30 1855.52M543.53 1605.06L538.99 1595.91M540.50 1598.95L543.06 1596.46M388.99 1702.02L399.07 1698.89M395.09 1700.13L398.86 1704.03M868.81 1775.13L876.25 1771.56M873.72 1772.77L874.40 1768.62M752.08 1614.76L743.01 1612.28M285.69 1711.33L284.18 1703.90M465.14 1706.04L470.45 1699.41M469.12 1701.07L473.05 1701.59M896.30 1630.76L902.81 1622.68M901.49 1624.33L905.66 1625.46M400.44 1738.92L408.19 1733.48M695.09 1829.69L686.33 1823.12M689.51 1825.50L685.23 1827.99M628.02 1820.16L618.85 1817.75M622.34 1818.66L622.29 1813.76M196.90 1867.77L200.39 1861.51M269.94 1817.44L269.07 1808.03M292.29 1644.56L284.90 1638.70M469.95 1756.38L459.32 1754.52M929.46 1613.13L939.74 1612.22M938.09 1612.37L938.48 1608.49M400.36 1841.41L407.59 1838.01M405.93 1838.79L405.97 1833.84M839.67 1715.79L848.86 1714.94M505.76 1818.25L507.17 1809.94M506.93 1811.32L511.59 1811.57M696.47 1718.31L703.13 1715.68M700.48 1716.73L704.04 1720.70M797.39 1632.28L792.58 1625.69" stroke="#262626" stroke-width="0.95" fill="none"/>
<path clip-path="url(#c2)" d="M755.26 1840.85h0.9M726.06 1806.21h0.9M603.06 1668.46h0.9M490.49 1727.65h0.9M477.03 1750.56h0.9M716.28 1828.73h0.9M507.97 1684.44h0.9M649.33 1661.71h0.9M933.78 1667.40h0.9M885.91 1704.71h0.9M727.75 1691.38h0.9M254.48 1648.24h0.9M203.21 1811.93h0.9M249.64 1718.72h0.9M735.15 1763.41h0.9M912.49 1836.55h0.9M496.67 1697.31h0.9M820.44 1766.67h0.9M815.54 1618.53h0.9M911.28 1605.82h0.9M347.00 1846.26h0.9M832.79 1752.32h0.9M571.11 1647.61h0.9M734.37 1586.23h0.9M248.50 1644.23h0.9M478.03 1584.34h0.9M842.97 1668.44h0.9M710.47 1804.37h0.9M793.34 1620.53h0.9M247.25 1704.42h0.9M941.61 1578.13h0.9M309.90 1843.97h0.9M281.56 1720.54h0.9M901.54 1601.05h0.9M648.24 1591.00h0.9M533.20 1656.22h0.9M325.07 1851.55h0.9M366.03 1793.31h0.9M887.74 1784.98h0.9M837.38 1662.24h0.9M758.71 1710.60h0.9M374.29 1598.89h0.9M634.39 1701.98h0.9M566.57 1779.99h0.9M553.83 1737.75h0.9M707.03 1762.51h0.9M655.17 1740.24h0.9M467.69 1808.91h0.9M813.58 1812.47h0.9M398.41 1714.31h0.9M673.66 1738.11h0.9M567.10 1589.84h0.9M880.09 1617.29h0.9M644.22 1730.62h0.9M820.46 1663.50h0.9M501.10 1726.94h0.9M606.10 1603.18h0.9M617.96 1688.53h0.9M870.47 1756.86h0.9M568.83 1684.63h0.9M806.42 1743.80h0.9M331.22 1633.05h0.9M482.30 1789.49h0.9M489.22 1602.50h0.9M667.69 1675.27h0.9M518.88 1741.94h0.9M846.52 1626.16h0.9M238.10 1616.12h0.9M595.30 1603.51h0.9M938.38 1688.40h0.9M363.19 1847.03h0.9M782.75 1645.36h0.9M805.49 1812.11h0.9M234.84 1635.31h0.9M661.13 1678.54h0.9M284.10 1833.48h0.9M724.38 1821.63h0.9M252.04 1713.66h0.9M935.64 1851.85h0.9M615.24 1658.91h0.9M330.88 1686.78h0.9M757.34 1710.74h0.9M240.45 1767.06h0.9M888.86 1614.63h0.9M941.24 1656.41h0.9M758.03 1718.47h0.9M366.44 1779.12h0.9M936.43 1619.81h0.9M827.73 1752.83h0.9M697.58 1792.45h0.9M443.41 1809.14h0.9M482.49 1831.41h0.9M398.07 1825.72h0.9M243.75 1831.10h0.9M234.03 1705.35h0.9M546.17 1854.91h0.9M323.04 1798.62h0.9M658.15 1580.87h0.9M332.56 1729.98h0.9M773.91 1791.23h0.9M879.71 1719.34h0.9M548.00 1836.25h0.9M673.53 1618.70h0.9M667.27 1710.48h0.9M637.71 1771.09h0.9M277.19 1595.28h0.9M281.12 1658.42h0.9M743.26 1676.12h0.9M755.34 1759.54h0.9M847.17 1776.37h0.9M777.71 1684.94h0.9M260.15 1798.95h0.9M290.81 1824.71h0.9M456.32 1802.69h0.9M933.63 1848.24h0.9M438.51 1744.49h0.9M886.53 1757.02h0.9M810.15 1590.76h0.9M653.24 1582.27h0.9M713.27 1610.57h0.9M646.26 1675.22h0.9M671.11 1846.12h0.9M516.54 1825.81h0.9M758.26 1648.39h0.9M343.48 1742.77h0.9M755.10 1792.03h0.9M892.73 1812.03h0.9M277.38 1627.62h0.9M444.34 1861.33h0.9M338.92 1843.39h0.9M467.17 1648.27h0.9M493.07 1653.64h0.9M477.63 1739.13h0.9M663.16 1615.88h0.9M646.34 1604.53h0.9M466.89 1844.38h0.9M810.65 1851.93h0.9M634.11 1747.50h0.9M452.65 1642.02h0.9M740.07 1746.87h0.9M247.68 1648.08h0.9M791.43 1829.78h0.9M686.79 1640.41h0.9M789.31 1829.93h0.9M370.18 1791.56h0.9M756.65 1745.40h0.9M668.19 1597.38h0.9M912.14 1822.51h0.9M534.59 1622.10h0.9M353.68 1819.70h0.9M383.53 1677.51h0.9M223.31 1849.82h0.9M366.79 1758.33h0.9M757.01 1764.80h0.9M504.94 1656.86h0.9M657.16 1659.92h0.9M853.14 1791.48h0.9M307.68 1707.05h0.9M882.30 1607.51h0.9M920.87 1809.67h0.9M888.59 1625.46h0.9M770.51 1693.06h0.9M250.16 1836.12h0.9M217.90 1742.34h0.9M612.98 1649.21h0.9M745.45 1713.82h0.9M924.00 1858.96h0.9M398.87 1840.18h0.9M592.87 1672.46h0.9M520.73 1728.72h0.9M762.79 1777.16h0.9M916.24 1762.91h0.9M375.92 1794.96h0.9M762.95 1752.06h0.9M417.24 1653.39h0.9M197.22 1722.78h0.9M629.51 1839.47h0.9M259.72 1787.18h0.9M722.27 1827.03h0.9M779.56 1798.62h0.9M604.90 1701.71h0.9M453.88 1654.59h0.9M732.72 1768.51h0.9M609.39 1615.71h0.9M946.16 1782.32h0.9M754.45 1725.38h0.9M765.58 1802.03h0.9M873.19 1689.28h0.9M638.26 1672.96h0.9M277.23 1583.41h0.9M378.31 1634.72h0.9M471.43 1836.20h0.9M450.99 1803.98h0.9M480.18 1775.12h0.9M642.33 1841.90h0.9M429.90 1604.08h0.9M927.60 1722.20h0.9M656.30 1725.90h0.9M844.65 1618.69h0.9M436.03 1812.29h0.9M429.86 1607.05h0.9M947.44 1667.30h0.9M709.95 1594.34h0.9M447.79 1847.24h0.9M502.69 1745.74h0.9M399.15 1656.96h0.9M737.76 1792.93h0.9M282.12 1632.44h0.9M601.78 1618.42h0.9M424.90 1584.09h0.9M549.46 1800.65h0.9M664.21 1826.99h0.9M249.74 1798.53h0.9M539.68 1728.40h0.9M341.89 1655.60h0.9M899.87 1719.82h0.9M269.54 1724.92h0.9M330.83 1667.11h0.9M501.60 1827.19h0.9M381.21 1782.52h0.9M284.66 1643.96h0.9M351.70 1701.28h0.9M515.56 1629.88h0.9M472.27 1612.19h0.9M258.53 1745.36h0.9M737.91 1793.71h0.9M838.29 1652.49h0.9M413.31 1767.82h0.9M939.69 1773.33h0.9M437.62 1619.31h0.9M866.67 1706.32h0.9M507.06 1614.32h0.9M535.84 1682.65h0.9M449.45 1621.68h0.9M551.71 1689.44h0.9M822.88 1688.64h0.9M674.94 1785.93h0.9M848.99 1690.61h0.9M775.31 1794.92h0.9M842.59 1757.32h0.9M951.92 1787.34h0.9M403.45 1747.22h0.9M251.35 1665.63h0.9M911.83 1675.99h0.9M771.80 1669.82h0.9M727.13 1830.06h0.9M272.93 1658.15h0.9M250.64 1717.08h0.9M349.35 1723.26h0.9M815.74 1821.29h0.9M940.09 1588.29h0.9M821.99 1745.44h0.9M368.38 1821.56h0.9M801.62 1653.86h0.9M224.01 1854.20h0.9M434.38 1642.81h0.9M292.99 1840.35h0.9M868.88 1610.05h0.9M594.45 1681.24h0.9M402.71 1791.92h0.9M319.93 1610.28h0.9M849.05 1837.26h0.9M507.66 1853.00h0.9M748.15 1832.15h0.9M451.93 1802.35h0.9M551.65 1801.44h0.9M892.59 1601.35h0.9M505.46 1670.44h0.9M731.44 1848.73h0.9M933.58 1805.77h0.9M519.11 1618.00h0.9M925.38 1585.46h0.9M598.83 1740.54h0.9M711.26 1856.34h0.9M913.30 1712.92h0.9M227.73 1647.21h0.9M722.61 1828.21h0.9M372.42 1657.30h0.9M259.50 1689.50h0.9M877.23 1653.81h0.9M647.76 1594.97h0.9M746.07 1709.44h0.9M315.20 1744.45h0.9M497.26 1745.58h0.9M600.23 1652.39h0.9M845.60 1583.54h0.9M522.17 1862.67h0.9M508.14 1584.53h0.9M620.08 1757.47h0.9M635.54 1849.81h0.9M682.92 1621.97h0.9M833.80 1597.38h0.9M384.53 1695.75h0.9M276.44 1851.78h0.9M530.47 1749.46h0.9M384.95 1608.28h0.9M215.28 1788.97h0.9M835.55 1805.26h0.9M870.91 1640.45h0.9M221.80 1645.58h0.9M949.92 1835.91h0.9M565.24 1733.27h0.9M206.98 1757.52h0.9M411.47 1781.60h0.9M373.63 1684.78h0.9M848.16 1599.26h0.9M793.30 1733.66h0.9M400.24 1751.98h0.9M825.10 1688.24h0.9M570.58 1793.53h0.9M204.04 1748.05h0.9M591.32 1620.39h0.9M388.40 1656.94h0.9M926.59 1786.87h0.9M831.94 1726.13h0.9M323.57 1737.80h0.9M629.69 1630.31h0.9M486.36 1732.12h0.9M690.59 1640.76h0.9M802.77 1732.64h0.9M414.36 1724.79h0.9M880.01 1737.32h0.9M563.90 1818.82h0.9M381.80 1787.38h0.9M852.13 1843.47h0.9M767.68 1784.43h0.9M582.67 1730.61h0.9M612.86 1684.83h0.9M544.37 1682.30h0.9M604.82 1847.19h0.9M468.33 1810.44h0.9M852.47 1641.76h0.9M457.73 1649.94h0.9M414.27 1762.53h0.9M540.42 1707.13h0.9M786.10 1794.30h0.9M470.60 1601.72h0.9M399.03 1782.51h0.9M545.60 1631.74h0.9M732.75 1643.90h0.9M820.65 1796.06h0.9M566.55 1665.70h0.9M893.63 1625.58h0.9M490.21 1761.84h0.9M345.02 1649.84h0.9M896.95 1690.79h0.9M850.38 1805.63h0.9M659.85 1805.10h0.9M754.21 1780.33h0.9M202.89 1648.71h0.9M930.66 1835.62h0.9M658.54 1779.26h0.9M835.04 1768.33h0.9M912.84 1707.16h0.9M915.09 1723.49h0.9M373.29 1676.15h0.9M294.81 1739.29h0.9M683.60 1815.41h0.9M204.43 1601.26h0.9M545.97 1687.65h0.9M208.12 1669.31h0.9M940.17 1690.59h0.9M606.50 1620.55h0.9M220.64 1833.50h0.9M465.11 1641.61h0.9M878.00 1852.90h0.9M264.71 1829.95h0.9M693.96 1716.41h0.9M926.87 1833.46h0.9M447.24 1672.10h0.9M440.19 1727.96h0.9M274.34 1621.10h0.9M779.42 1844.25h0.9M597.08 1816.67h0.9M886.48 1847.55h0.9M301.63 1714.55h0.9M319.96 1771.19h0.9M642.99 1790.05h0.9M369.62 1854.57h0.9M443.93 1747.12h0.9M919.69 1698.57h0.9M766.09 1719.95h0.9M771.62 1771.50h0.9M262.52 1809.29h0.9M289.19 1855.96h0.9M689.35 1744.99h0.9M274.44 1811.76h0.9M355.90 1676.21h0.9M550.96 1852.28h0.9M614.37 1594.09h0.9M888.96 1765.81h0.9M567.28 1629.42h0.9M806.84 1666.90h0.9M521.93 1826.63h0.9M244.74 1732.22h0.9M348.35 1608.58h0.9M779.50 1841.76h0.9M339.66 1807.98h0.9M593.61 1766.21h0.9M734.48 1830.19h0.9M732.50 1620.41h0.9M732.95 1733.01h0.9M281.57 1853.47h0.9M714.39 1794.21h0.9M837.19 1653.34h0.9M863.86 1584.58h0.9M288.32 1640.50h0.9M381.59 1644.23h0.9M338.94 1827.13h0.9M307.14 1827.89h0.9M251.07 1805.77h0.9M623.99 1711.46h0.9M294.02 1650.85h0.9M303.46 1851.74h0.9M256.54 1836.61h0.9M810.37 1773.95h0.9M406.89 1860.32h0.9M667.85 1589.76h0.9M454.10 1688.43h0.9M238.96 1724.00h0.9M676.47 1604.28h0.9M303.49 1795.07h0.9M551.15 1852.34h0.9M234.40 1643.21h0.9M903.93 1811.88h0.9M285.93 1709.02h0.9M517.83 1806.25h0.9M303.32 1611.18h0.9M246.02 1721.93h0.9M859.30 1828.29h0.9M476.98 1704.07h0.9M891.08 1835.99h0.9M751.08 1781.46h0.9M216.22 1702.18h0.9M896.19 1624.07h0.9M317.48 1821.02h0.9M690.31 1729.67h0.9M453.68 1698.87h0.9M439.89 1855.51h0.9M460.31 1612.05h0.9M826.35 1676.38h0.9M595.03 1618.31h0.9M345.59 1824.66h0.9M826.90 1600.31h0.9M570.92 1672.50h0.9M876.87 1662.53h0.9M355.40 1806.96h0.9M554.98 1813.96h0.9M484.72 1858.31h0.9M581.67 1661.44h0.9M241.36 1656.46h0.9M919.90 1745.44h0.9M803.81 1614.74h0.9M783.14 1831.49h0.9M734.51 1822.95h0.9M614.37 1849.04h0.9M651.31 1596.17h0.9M724.23 1777.04h0.9M773.22 1849.20h0.9M593.15 1762.94h0.9M626.39 1594.01h0.9M299.83 1586.35h0.9M709.59 1637.87h0.9M209.71 1800.57h0.9M674.48 1579.35h0.9M652.67 1586.44h0.9M253.88 1736.22h0.9M833.67 1707.59h0.9M838.70 1586.49h0.9M913.32 1625.42h0.9M616.76 1660.63h0.9M371.48 1605.13h0.9M717.31 1736.69h0.9M932.62 1852.87h0.9M314.13 1763.24h0.9M674.01 1663.14h0.9M593.58 1802.40h0.9M822.12 1734.27h0.9M465.48 1779.83h0.9M488.89 1711.87h0.9M320.40 1594.67h0.9M779.51 1774.79h0.9M608.04 1772.74h0.9M918.48 1654.36h0.9M346.22 1716.37h0.9M398.18 1625.99h0.9M377.15 1769.00h0.9M212.37 1800.72h0.9M560.85 1694.41h0.9M360.03 1753.17h0.9M549.09 1786.83h0.9M233.89 1854.05h0.9M558.14 1584.11h0.9M674.45 1634.99h0.9M875.48 1744.84h0.9M944.59 1857.11h0.9M480.60 1708.30h0.9M625.31 1803.85h0.9M252.20 1802.07h0.9M927.45 1747.73h0.9M489.90 1850.31h0.9M509.05 1856.24h0.9M802.71 1687.32h0.9M583.67 1824.88h0.9M856.07 1858.05h0.9M705.26 1812.38h0.9M311.38 1699.07h0.9M219.77 1691.08h0.9M554.59 1598.88h0.9M891.34 1652.19h0.9M539.20 1594.66h0.9M884.81 1587.22h0.9M925.79 1676.62h0.9M326.08 1826.86h0.9M641.18 1730.35h0.9M729.46 1669.40h0.9M238.64 1806.07h0.9M620.12 1634.03h0.9M643.91 1768.35h0.9M322.54 1860.01h0.9M623.51 1764.09h0.9M367.74 1737.03h0.9M679.32 1768.13h0.9M861.33 1776.38h0.9M820.41 1599.10h0.9M466.63 1811.40h0.9M500.02 1591.89h0.9M792.86 1778.89h0.9M840.37 1840.04h0.9M384.42 1623.44h0.9M924.90 1732.87h0.9M220.62 1800.79h0.9M570.13 1638.16h0.9M668.95 1712.50h0.9M385.85 1813.57h0.9M787.12 1581.29h0.9M693.54 1829.23h0.9M604.84 1744.54h0.9M330.19 1658.67h0.9M537.42 1838.81h0.9M545.79 1861.16h0.9M362.77 1631.20h0.9M856.13 1793.63h0.9M943.61 1646.71h0.9M575.10 1618.74h0.9M371.38 1736.82h0.9M385.56 1758.67h0.9M323.09 1626.38h0.9M580.74 1767.35h0.9M923.83 1678.21h0.9M905.31 1690.03h0.9M494.11 1696.17h0.9M667.74 1688.63h0.9M884.28 1755.44h0.9M663.47 1671.20h0.9M344.81 1674.15h0.9M237.69 1757.45h0.9M779.08 1798.67h0.9M867.28 1794.15h0.9M500.90 1788.70h0.9M465.57 1799.21h0.9M256.78 1757.23h0.9M220.58 1734.88h0.9M791.67 1638.11h0.9M221.45 1665.44h0.9M453.67 1722.88h0.9M851.22 1712.29h0.9M380.40 1774.31h0.9M382.77 1585.86h0.9M228.31 1659.71h0.9M743.22 1845.00h0.9M250.82 1746.77h0.9M563.18 1719.55h0.9M652.37 1590.95h0.9M203.06 1712.09h0.9M314.25 1804.94h0.9M525.98 1637.33h0.9M490.11 1622.59h0.9M382.18 1783.68h0.9M263.21 1848.02h0.9M338.62 1633.60h0.9M201.62 1849.20h0.9M721.65 1634.43h0.9M759.71 1723.42h0.9M527.73 1580.87h0.9M226.41 1788.33h0.9M600.38 1699.09h0.9M417.02 1761.23h0.9M404.07 1624.20h0.9M634.89 1678.39h0.9M700.10 1748.01h0.9M515.04 1672.78h0.9M389.60 1657.04h0.9M366.97 1685.60h0.9M831.80 1741.31h0.9M921.18 1610.89h0.9M877.56 1832.92h0.9M805.73 1810.86h0.9M200.49 1679.75h0.9M329.21 1722.36h0.9M866.03 1825.18h0.9M507.07 1843.39h0.9M349.94 1776.79h0.9M556.83 1823.20h0.9M870.33 1672.33h0.9M368.66 1750.65h0.9M640.21 1746.25h0.9M848.06 1604.30h0.9M777.25 1758.74h0.9M587.23 1833.72h0.9M397.69 1759.70h0.9M716.49 1858.22h0.9M772.89 1729.60h0.9M664.77 1851.55h0.9M517.54 1625.99h0.9M257.47 1642.23h0.9M341.57 1714.80h0.9M897.82 1746.23h0.9M910.30 1621.83h0.9M932.57 1626.97h0.9M216.68 1795.77h0.9M459.06 1605.46h0.9M626.28 1711.31h0.9M806.69 1599.21h0.9M303.73 1663.45h0.9M729.19 1714.62h0.9M804.07 1658.62h0.9M577.59 1841.60h0.9M519.89 1704.89h0.9M369.43 1730.89h0.9M674.93 1839.46h0.9M677.74 1696.99h0.9M625.15 1671.80h0.9M773.53 1703.10h0.9M912.11 1617.03h0.9M287.66 1718.41h0.9M510.37 1860.88h0.9M857.56 1632.26h0.9M220.58 1603.15h0.9M467.54 1826.53h0.9" stroke="#606060" stroke-width="0.9" fill="none"/>
<path d="M194.18 1599.77 L836.20 1599.77 L836.20 1605.47 L194.23 1605.47" stroke="#000" stroke-width="1.3" fill="none" />
<path d="M196.03 1831.16 L836.25 1831.16 L836.25 1837.16 L196.08 1837.16" stroke="#000" stroke-width="1.3" fill="none" />
<path d="M241.98 1612.28 L917.51 1612.28 A9.0 9.0 0 0 1 926.51 1621.28 L926.51 1814.09 A9.0 9.0 0 0 1 917.51 1823.09 L241.67 1823.09 L241.63 1817.99 L917.61 1817.99 A3.2 3.2 0 0 0 920.81 1814.79 L920.81 1621.18 A3.2 3.2 0 0 0 917.61 1617.98 L242.03 1617.98 Z" fill="none" stroke="#000" stroke-width="1.3"/>
<circle cx="349.28" cy="1623.73" r="6.0" fill="#000" stroke="none" stroke-width="1.0"/>
<circle cx="631.49" cy="1623.57" r="6.0" fill="#000" stroke="none" stroke-width="1.0"/>
<circle cx="914.29" cy="1623.31" r="6.0" fill="#000" stroke="none" stroke-width="1.0"/>
<circle cx="349.36" cy="1808.53" r="6.0" fill="#000" stroke="none" stroke-width="1.0"/>
<circle cx="631.66" cy="1808.17" r="6.0" fill="#000" stroke="none" stroke-width="1.0"/>
<circle cx="913.77" cy="1807.72" r="6.0" fill="#000" stroke="none" stroke-width="1.0"/>
<line x1="196.26" y1="1859.76" x2="949.79" y2="1859.76" stroke="#000" stroke-width="1.3" />
<path d="M949.53 1788.03 L949.53 1860.03" stroke="#000" stroke-width="1.3" fill="none" />
<path d="M880.35 1577.33 L954.45 1577.33 L954.45 1583.03 L880.35 1583.03 Z" stroke="#000" stroke-width="1.3" fill="#fff" />
<path clip-path="url(#hc8)" d="M879.35 1599.03L955.45 1675.13M879.35 1596.83L955.45 1672.93M879.35 1585.03L955.45 1661.13M879.35 1582.83L955.45 1658.93M879.35 1571.03L955.45 1647.13M879.35 1568.83L955.45 1644.93M879.35 1557.03L955.45 1633.13M879.35 1554.83L955.45 1630.93M879.35 1543.03L955.45 1619.13M879.35 1540.83L955.45 1616.93M879.35 1529.03L955.45 1605.13M879.35 1526.83L955.45 1602.93M879.35 1515.03L955.45 1591.13M879.35 1512.83L955.45 1588.93M879.35 1501.03L955.45 1577.13M879.35 1498.83L955.45 1574.93M879.35 1487.03L955.45 1563.13M879.35 1484.83L955.45 1560.93M879.35 1473.03L955.45 1549.13M879.35 1470.83L955.45 1546.93" stroke="#2a2a2a" stroke-width="0.9" fill="none"/>
<path d="M880.35 1577.33 L954.45 1577.33 L954.45 1583.03 L880.35 1583.03 Z" stroke="#000" stroke-width="1.3" fill="none" />
<path d="M861.05 1590.03 L948.25 1590.03 L948.25 1595.53 L861.05 1595.53 Z" stroke="#000" stroke-width="1.3" fill="#fff" />
<path clip-path="url(#hc9)" d="M860.05 1617.73L949.25 1706.93M860.05 1615.53L949.25 1704.73M860.05 1603.73L949.25 1692.93M860.05 1601.53L949.25 1690.73M860.05 1589.73L949.25 1678.93M860.05 1587.53L949.25 1676.73M860.05 1575.73L949.25 1664.93M860.05 1573.53L949.25 1662.73M860.05 1561.73L949.25 1650.93M860.05 1559.53L949.25 1648.73M860.05 1547.73L949.25 1636.93M860.05 1545.53L949.25 1634.73M860.05 1533.73L949.25 1622.93M860.05 1531.53L949.25 1620.73M860.05 1519.73L949.25 1608.93M860.05 1517.53L949.25 1606.73M860.05 1505.73L949.25 1594.93M860.05 1503.53L949.25 1592.73M860.05 1491.73L949.25 1580.93M860.05 1489.53L949.25 1578.73M860.05 1477.73L949.25 1566.93M860.05 1475.53L949.25 1564.73" stroke="#2a2a2a" stroke-width="0.9" fill="none"/>
<path d="M861.05 1590.03 L948.25 1590.03 L948.25 1595.53 L861.05 1595.53 Z" stroke="#000" stroke-width="1.3" fill="none" />
<path d="M875.05 1580.73 L861.05 1580.73 L861.05 1590.03" stroke="#000" stroke-width="1.3" fill="none" />
<rect x="881.17" y="1595.37" width="3.00" height="42.20" stroke="#000" stroke-width="1.0" fill="#fff" />
<rect x="876.41" y="1637.91" width="12.50" height="3.20" stroke="#000" stroke-width="1.0" fill="#fff" />
<path d="M955.63 1502.57 L961.23 1502.57 L961.23 1583.77 L955.63 1583.77 Z" stroke="#000" stroke-width="1.3" fill="#fff" />
<path clip-path="url(#hc10)" d="M954.63 1599.57L962.23 1607.17M954.63 1597.37L962.23 1604.97M954.63 1585.57L962.23 1593.17M954.63 1583.37L962.23 1590.97M954.63 1571.57L962.23 1579.17M954.63 1569.37L962.23 1576.97M954.63 1557.57L962.23 1565.17M954.63 1555.37L962.23 1562.97M954.63 1543.57L962.23 1551.17M954.63 1541.37L962.23 1548.97M954.63 1529.57L962.23 1537.17M954.63 1527.37L962.23 1534.97M954.63 1515.57L962.23 1523.17M954.63 1513.37L962.23 1520.97M954.63 1501.57L962.23 1509.17M954.63 1499.37L962.23 1506.97M954.63 1487.57L962.23 1495.17M954.63 1485.37L962.23 1492.97M954.63 1473.57L962.23 1481.17M954.63 1471.37L962.23 1478.97" stroke="#2a2a2a" stroke-width="0.9" fill="none"/>
<path d="M955.63 1502.57 L961.23 1502.57 L961.23 1583.77 L955.63 1583.77 Z" stroke="#000" stroke-width="1.3" fill="none" />
<path d="M960.83 1502.57 L960.83 1584.57 L963.70 1617.57 L967.96 1647.57 L972.90 1678.57 L979.13 1678.57 L974.19 1647.57 L969.93 1617.57 L966.83 1584.57 L967.33 1502.57 Z" stroke="#000" stroke-width="1.0" fill="#fff" />
<path d="M960.83 1504.57L967.26 1514.17M967.32 1504.57L960.83 1514.17M960.83 1514.17L967.20 1523.77M967.26 1514.17L960.83 1523.77M960.83 1523.77L967.14 1533.37M967.20 1523.77L960.83 1533.37M960.83 1533.37L967.08 1542.97M967.14 1533.37L960.83 1542.97M960.83 1542.97L967.02 1552.57M967.08 1542.97L960.83 1552.57M960.83 1552.57L966.97 1562.17M967.02 1552.57L960.83 1562.17M960.83 1562.17L966.91 1571.77M966.97 1562.17L960.83 1571.77M960.83 1571.77L966.85 1581.37M966.91 1571.77L960.83 1581.37M960.83 1581.37L967.43 1590.97M966.85 1581.37L961.39 1590.97M961.39 1590.97L968.33 1600.57M967.43 1590.97L962.22 1600.57M962.22 1600.57L969.24 1610.17M968.33 1600.57L963.06 1610.17M963.06 1610.17L970.25 1619.77M969.24 1610.17L964.02 1619.77M964.02 1619.77L971.61 1629.37M970.25 1619.77L965.38 1629.37M965.38 1629.37L972.97 1638.97M971.61 1629.37L966.74 1638.97M966.74 1638.97L974.35 1648.57M972.97 1638.97L968.12 1648.57M968.12 1648.57L975.88 1658.17M974.35 1648.57L969.65 1658.17M969.65 1658.17L977.41 1667.77M975.88 1658.17L971.18 1667.77M971.18 1667.77L978.94 1677.37M977.41 1667.77L972.71 1677.37" stroke="#222" stroke-width="0.8" fill="none"/>
<path d="M960.83 1502.57 L960.83 1584.57 L963.70 1617.57 L967.96 1647.57 L972.90 1678.57 L979.13 1678.57 L974.19 1647.57 L969.93 1617.57 L966.83 1584.57 L967.33 1502.57 Z" stroke="#000" stroke-width="1.1" fill="none" />
<rect x="961.68" y="1520.17" width="17.00" height="3.1" fill="#fff" stroke="#000" stroke-width="0.95"/>
<rect x="978.68" y="1515.72" width="3.0" height="12" fill="#fff" stroke="#000" stroke-width="0.9"/>
<rect x="962.04" y="1564.37" width="17.00" height="3.1" fill="#fff" stroke="#000" stroke-width="0.95"/>
<rect x="979.04" y="1559.92" width="3.0" height="12" fill="#fff" stroke="#000" stroke-width="0.9"/>
<path d="M194.20 1577.56 L877.63 1577.56 L877.63 1586.20 L952.39 1586.20 L952.39 1790.01" stroke="#2d2d2d" stroke-width="6.2" fill="none" stroke-linejoin="miter"/>
<path d="M362.26 130.20L362.26 140.50L360.22 142.56L356.14 142.56L354.10 140.50M362.26 136.38L360.22 138.44L356.14 138.44L354.10 136.38L354.10 132.26L356.14 130.20L360.22 130.20L362.26 132.26M366.74 126.08L366.74 136.38L368.37 138.44M378.98 130.20L378.98 138.44M378.98 136.38L376.94 138.44L372.86 138.44L370.82 136.38L370.82 132.26L372.86 130.20L376.94 130.20L378.98 132.26M383.06 138.44L389.18 138.44L391.22 136.38L389.18 134.32L385.10 134.32L383.06 132.26L385.10 130.20L391.22 130.20M395.30 138.44L401.42 138.44L403.46 136.38L401.42 134.32L397.34 134.32L395.30 132.26L397.34 130.20L403.46 130.20M419.78 138.44L419.78 130.20M419.78 134.32L423.86 130.20L425.90 130.20L427.93 132.26M440.17 130.20L440.17 138.44M440.17 136.38L438.13 138.44L434.05 138.44L432.01 136.38L432.01 132.26L434.05 130.20L438.13 130.20L440.17 132.26M444.86 138.44L444.86 130.20M444.86 127.73L444.86 126.29M448.74 126.08L448.74 136.38L450.37 138.44M453.43 138.44L453.43 130.20M453.43 127.73L453.43 126.29M456.90 138.44L456.90 130.20M456.90 132.26L458.94 130.20L463.02 130.20L465.06 132.26L465.06 138.44M477.30 130.20L477.30 140.50L475.26 142.56L471.18 142.56L469.14 140.50M477.30 136.38L475.26 138.44L471.18 138.44L469.14 136.38L469.14 132.26L471.18 130.20L475.26 130.20L477.30 132.26" stroke="#3a3a3a" stroke-width="1.15" fill="none" stroke-linecap="round" stroke-linejoin="round"/>
<line x1="491.27" y1="134.84" x2="927.19" y2="134.95" stroke="#0a0a0a" stroke-width="1.25" />
<path d="M362.22 164.28L356.36 164.28L354.40 166.34L354.40 167.37L362.22 173.55L362.22 174.58L360.26 176.64L354.40 176.64M366.13 168.40L366.13 180.76M366.13 174.58L368.08 176.64L371.99 176.64L373.94 174.58L373.94 170.46L371.99 168.40L368.08 168.40L366.13 170.46M378.44 176.64L378.44 168.40M378.44 165.93L378.44 164.48M389.58 168.40L389.58 178.70L387.62 180.76L383.71 180.76L381.76 178.70M389.58 174.58L387.62 176.64L383.71 176.64L381.76 174.58L381.76 170.46L383.71 168.40L387.62 168.40L389.58 170.46M395.44 176.64L399.35 176.64L401.30 174.58L401.30 170.46L399.35 168.40L395.44 168.40L393.48 170.46L393.48 174.58L395.44 176.64M408.53 165.31L408.53 174.58L410.48 176.64L412.44 176.64L414.00 174.99M406.58 168.40L412.83 168.40" stroke="#3a3a3a" stroke-width="1.15" fill="none" stroke-linecap="round" stroke-linejoin="round"/>
<path d="M425.46 170.90 L922.07 170.90 L922.07 392.70" stroke="#0a0a0a" stroke-width="1.25" fill="none" />
<path d="M353.52 208.11L353.52 220.47M353.52 214.29L355.56 216.35L359.63 216.35L361.67 214.29L361.67 210.17L359.63 208.11L355.56 208.11L353.52 210.17M365.74 212.23L373.89 212.23L373.89 210.17L371.86 208.11L367.78 208.11L365.74 210.17L365.74 214.29L367.78 216.35L373.89 216.35M386.12 203.99L386.12 216.35M386.12 214.29L384.08 216.35L380.01 216.35L377.97 214.29L377.97 210.17L380.01 208.11L384.08 208.11L386.12 210.17M390.19 212.23L398.34 212.23L398.34 210.17L396.30 208.11L392.23 208.11L390.19 210.17L390.19 214.29L392.23 216.35L398.34 216.35M402.42 216.35L408.53 216.35L410.57 214.29L408.53 212.23L404.45 212.23L402.42 210.17L404.45 208.11L410.57 208.11M418.10 205.02L418.10 214.29L420.14 216.35L422.18 216.35L423.81 214.70M416.07 208.11L422.59 208.11M435.01 208.11L435.01 216.35M435.01 214.29L432.98 216.35L428.90 216.35L426.86 214.29L426.86 210.17L428.90 208.11L432.98 208.11L435.01 210.17M439.50 203.99L439.50 214.29L441.13 216.35M443.57 216.35L449.68 216.35L451.72 214.29L449.68 212.23L445.61 212.23L443.57 210.17L445.61 208.11L451.72 208.11" stroke="#3a3a3a" stroke-width="1.15" fill="none" stroke-linecap="round" stroke-linejoin="round"/>
<path d="M460.79 211.84 L817.20 211.84 L817.20 463.05" stroke="#0a0a0a" stroke-width="1.25" fill="none" />
<path d="M362.46 245.34L360.48 243.28L356.51 243.28L354.53 245.34L354.53 253.58L356.51 255.64L360.48 255.64L362.46 253.58M368.40 255.64L372.36 255.64L374.34 253.58L374.34 249.46L372.36 247.40L368.40 247.40L366.42 249.46L366.42 253.58L368.40 255.64M378.30 255.64L378.30 247.40M378.30 249.46L380.28 247.40L384.24 247.40L386.23 249.46L386.23 255.64M398.11 249.46L396.13 247.40L392.17 247.40L390.19 249.46L390.19 253.58L392.17 255.64L396.13 255.64L398.11 253.58M402.07 255.64L402.07 247.40M402.07 251.52L406.03 247.40L408.01 247.40L409.99 249.46M413.95 251.52L421.88 251.52L421.88 249.46L419.90 247.40L415.94 247.40L413.95 249.46L413.95 253.58L415.94 255.64L421.88 255.64M429.21 244.31L429.21 253.58L431.19 255.64L433.17 255.64L434.75 253.99M427.23 247.40L433.56 247.40M437.72 251.52L445.65 251.52L445.65 249.46L443.66 247.40L439.70 247.40L437.72 249.46L437.72 253.58L439.70 255.64L445.65 255.64M461.49 255.64L461.49 243.28L467.43 243.28L469.41 245.34L469.41 247.40L467.43 249.46L461.49 249.46M481.30 247.40L481.30 255.64M481.30 253.58L479.32 255.64L475.36 255.64L473.38 253.58L473.38 249.46L475.36 247.40L479.32 247.40L481.30 249.46M485.26 247.40L489.22 255.64L493.18 247.40M497.14 251.52L505.07 251.52L505.07 249.46L503.09 247.40L499.12 247.40L497.14 249.46L497.14 253.58L499.12 255.64L505.07 255.64M509.03 255.64L509.03 247.40M509.03 251.52L512.99 247.40L514.97 247.40L516.95 249.46M520.91 255.64L526.85 255.64L528.83 253.58L526.85 251.52L522.89 251.52L520.91 249.46L522.89 247.40L528.83 247.40" stroke="#3a3a3a" stroke-width="1.15" fill="none" stroke-linecap="round" stroke-linejoin="round"/>
<path d="M535.77 246.69 L773.68 246.69 L773.68 408.19" stroke="#0a0a0a" stroke-width="1.25" fill="none" />
<path d="M354.13 292.04L354.13 279.68L360.14 279.68L362.15 281.74L362.15 283.80L360.14 285.86L354.13 285.86M356.33 285.86L362.15 292.04M366.76 292.04L366.76 283.80M366.76 281.33L366.76 279.89M378.19 283.80L378.19 294.10L376.18 296.16L372.17 296.16L370.17 294.10M378.19 289.98L376.18 292.04L372.17 292.04L370.17 289.98L370.17 285.86L372.17 283.80L376.18 283.80L378.19 285.86M382.80 292.04L382.80 283.80M382.80 281.33L382.80 279.89M394.23 279.68L394.23 292.04M394.23 289.98L392.23 292.04L388.21 292.04L386.21 289.98L386.21 285.86L388.21 283.80L392.23 283.80L394.23 285.86M410.27 292.04L414.28 292.04M412.28 292.04L412.28 279.68M410.27 279.68L414.28 279.68M418.29 292.04L418.29 283.80M418.29 285.86L420.30 283.80L424.31 283.80L426.31 285.86L426.31 292.04M430.32 292.04L436.34 292.04L438.35 289.98L436.34 287.92L432.33 287.92L430.32 285.86L432.33 283.80L438.35 283.80M442.36 283.80L442.36 289.98L444.36 292.04L448.37 292.04L450.38 289.98M450.38 283.80L450.38 292.04M454.79 279.68L454.79 289.98L456.39 292.04M466.82 283.80L466.82 292.04M466.82 289.98L464.82 292.04L460.80 292.04L458.80 289.98L458.80 285.86L460.80 283.80L464.82 283.80L466.82 285.86M474.24 280.71L474.24 289.98L476.25 292.04L478.25 292.04L479.85 290.40M472.23 283.80L478.65 283.80M483.46 292.04L483.46 283.80M483.46 281.33L483.46 279.89M488.88 292.04L492.89 292.04L494.89 289.98L494.89 285.86L492.89 283.80L488.88 283.80L486.87 285.86L486.87 289.98L488.88 292.04M498.90 292.04L498.90 283.80M498.90 285.86L500.91 283.80L504.92 283.80L506.93 285.86L506.93 292.04" stroke="#3a3a3a" stroke-width="1.15" fill="none" stroke-linecap="round" stroke-linejoin="round"/>
<path d="M344.95 283.02 L219.95 283.02 L219.95 574.53" stroke="#0a0a0a" stroke-width="1.25" fill="none" />
<path d="M355.14 318.98L358.51 331.34L361.09 323.10L363.66 331.34L367.03 318.98M376.75 323.10L376.75 331.34M376.75 329.28L374.76 331.34L370.80 331.34L368.82 329.28L368.82 325.16L370.80 323.10L374.76 323.10L376.75 325.16M384.08 320.01L384.08 329.28L386.06 331.34L388.05 331.34L389.63 329.69M382.10 323.10L388.44 323.10M392.60 327.22L400.53 327.22L400.53 325.16L398.55 323.10L394.59 323.10L392.60 325.16L392.60 329.28L394.59 331.34L400.53 331.34M404.50 331.34L404.50 323.10M404.50 327.22L408.46 323.10L410.45 323.10L412.43 325.16M416.39 323.10L416.39 335.46M416.39 329.28L418.37 331.34L422.34 331.34L424.32 329.28L424.32 325.16L422.34 323.10L418.37 323.10L416.39 325.16M428.29 331.34L428.29 323.10M428.29 327.22L432.25 323.10L434.23 323.10L436.22 325.16M442.16 331.34L446.13 331.34L448.11 329.28L448.11 325.16L446.13 323.10L442.16 323.10L440.18 325.16L440.18 329.28L442.16 331.34M454.06 331.34L458.02 331.34L460.00 329.28L460.00 325.16L458.02 323.10L454.06 323.10L452.07 325.16L452.07 329.28L454.06 331.34M465.95 331.34L465.95 321.04L467.93 318.98L469.91 318.98L471.90 320.21M463.97 323.72L469.91 323.72M487.75 331.34L487.75 323.10M487.75 325.16L489.74 323.10L491.72 325.16L491.72 331.34M491.72 325.16L493.70 323.10L495.68 325.16L495.68 331.34M499.65 327.22L507.58 327.22L507.58 325.16L505.60 323.10L501.63 323.10L499.65 325.16L499.65 329.28L501.63 331.34L507.58 331.34M511.54 331.34L511.54 323.10M511.54 325.16L513.52 323.10L515.51 325.16L515.51 331.34M515.51 325.16L517.49 323.10L519.47 325.16L519.47 331.34M523.44 318.98L523.44 331.34M523.44 329.28L525.42 331.34L529.38 331.34L531.36 329.28L531.36 325.16L529.38 323.10L525.42 323.10L523.44 325.16M535.33 331.34L535.33 323.10M535.33 327.22L539.29 323.10L541.28 323.10L543.26 325.16M555.15 323.10L555.15 331.34M555.15 329.28L553.17 331.34L549.21 331.34L547.22 329.28L547.22 325.16L549.21 323.10L553.17 323.10L555.15 325.16M559.12 331.34L559.12 323.10M559.12 325.16L561.10 323.10L565.06 323.10L567.05 325.16L567.05 331.34M571.01 327.22L578.94 327.22L578.94 325.16L576.96 323.10L572.99 323.10L571.01 325.16L571.01 329.28L572.99 331.34L578.94 331.34" stroke="#3a3a3a" stroke-width="1.15" fill="none" stroke-linecap="round" stroke-linejoin="round"/>
<path d="M345.29 324.93 L255.99 324.93 L255.99 625.24" stroke="#0a0a0a" stroke-width="1.25" fill="none" />
<path d="M1170.77 672.59L1168.77 670.53L1164.78 670.53L1162.78 672.59L1162.78 680.83L1164.78 682.89L1168.77 682.89L1170.77 680.83M1176.76 682.89L1180.76 682.89L1182.76 680.83L1182.76 676.71L1180.76 674.65L1176.76 674.65L1174.77 676.71L1174.77 680.83L1176.76 682.89M1186.76 682.89L1186.76 674.65M1186.76 676.71L1188.75 674.65L1192.75 674.65L1194.75 676.71L1194.75 682.89M1198.74 682.89L1198.74 674.65M1198.74 676.71L1200.74 674.65L1204.74 674.65L1206.74 676.71L1206.74 682.89M1210.73 678.77L1218.73 678.77L1218.73 676.71L1216.73 674.65L1212.73 674.65L1210.73 676.71L1210.73 680.83L1212.73 682.89L1218.73 682.89M1230.71 676.71L1228.72 674.65L1224.72 674.65L1222.72 676.71L1222.72 680.83L1224.72 682.89L1228.72 682.89L1230.71 680.83M1238.11 671.56L1238.11 680.83L1240.11 682.89L1242.10 682.89L1243.70 681.24M1236.11 674.65L1242.50 674.65M1247.30 682.89L1247.30 674.65M1247.30 672.18L1247.30 670.73M1252.69 682.89L1256.69 682.89L1258.69 680.83L1258.69 676.71L1256.69 674.65L1252.69 674.65L1250.70 676.71L1250.70 680.83L1252.69 682.89M1262.69 682.89L1262.69 674.65M1262.69 676.71L1264.68 674.65L1268.68 674.65L1270.68 676.71L1270.68 682.89" stroke="#3a3a3a" stroke-width="1.15" fill="none" stroke-linecap="round" stroke-linejoin="round"/>
<line x1="966.05" y1="680.06" x2="1151.65" y2="680.06" stroke="#0a0a0a" stroke-width="1.25" />
<path d="M1171.13 710.63L1165.11 710.63L1163.10 712.69L1163.10 713.72L1171.13 719.90L1171.13 720.93L1169.12 722.99L1163.10 722.99M1175.74 722.99L1175.74 714.75M1175.74 712.27L1175.74 710.83M1182.56 711.66L1182.56 720.93L1184.57 722.99L1186.58 722.99L1188.18 721.34M1180.56 714.75L1186.98 714.75M1191.19 718.87L1199.22 718.87L1199.22 716.81L1197.21 714.75L1193.20 714.75L1191.19 716.81L1191.19 720.93L1193.20 722.99L1199.22 722.99M1223.30 716.81L1221.29 714.75L1217.28 714.75L1215.27 716.81L1215.27 720.93L1217.28 722.99L1221.29 722.99L1223.30 720.93M1235.34 714.75L1235.34 722.99M1235.34 720.93L1233.33 722.99L1229.32 722.99L1227.31 720.93L1227.31 716.81L1229.32 714.75L1233.33 714.75L1235.34 716.81M1239.35 722.99L1245.38 722.99L1247.38 720.93L1245.38 718.87L1241.36 718.87L1239.35 716.81L1241.36 714.75L1247.38 714.75M1254.81 711.66L1254.81 720.93L1256.81 722.99L1258.82 722.99L1260.43 721.34M1252.80 714.75L1259.22 714.75M1275.48 722.99L1281.50 722.99L1283.50 720.93L1281.50 718.87L1277.48 718.87L1275.48 716.81L1277.48 714.75L1283.50 714.75M1287.92 710.63L1287.92 720.93L1289.52 722.99M1299.96 714.75L1299.96 722.99M1299.96 720.93L1297.95 722.99L1293.94 722.99L1291.93 720.93L1291.93 716.81L1293.94 714.75L1297.95 714.75L1299.96 716.81M1303.97 710.63L1303.97 722.99M1303.97 720.93L1305.98 722.99L1309.99 722.99L1312.00 720.93L1312.00 716.81L1309.99 714.75L1305.98 714.75L1303.97 716.81" stroke="#3a3a3a" stroke-width="1.15" fill="none" stroke-linecap="round" stroke-linejoin="round"/>
<line x1="878.95" y1="717.46" x2="1151.25" y2="717.46" stroke="#0a0a0a" stroke-width="1.25" />
<path d="M1162.62 754.45L1162.62 766.81M1162.62 760.63L1164.61 762.69L1168.59 762.69L1170.58 760.63L1170.58 756.51L1168.59 754.45L1164.61 754.45L1162.62 756.51M1174.56 762.69L1174.56 754.45M1174.56 758.57L1178.54 754.45L1180.53 754.45L1182.52 756.51M1186.50 758.57L1194.46 758.57L1194.46 756.51L1192.47 754.45L1188.49 754.45L1186.50 756.51L1186.50 760.63L1188.49 762.69L1194.46 762.69M1206.40 756.51L1204.41 754.45L1200.43 754.45L1198.44 756.51L1198.44 760.63L1200.43 762.69L1204.41 762.69L1206.40 760.63M1218.34 754.45L1218.34 762.69M1218.34 760.63L1216.35 762.69L1212.37 762.69L1210.38 760.63L1210.38 756.51L1212.37 754.45L1216.35 754.45L1218.34 756.51M1222.32 762.69L1228.29 762.69L1230.28 760.63L1228.29 758.57L1224.31 758.57L1222.32 756.51L1224.31 754.45L1230.28 754.45M1237.64 751.36L1237.64 760.63L1239.63 762.69L1241.62 762.69L1243.21 761.04M1235.65 754.45L1242.02 754.45M1266.10 756.51L1264.11 754.45L1260.13 754.45L1258.14 756.51L1258.14 760.63L1260.13 762.69L1264.11 762.69L1266.10 760.63M1272.07 762.69L1276.05 762.69L1278.04 760.63L1278.04 756.51L1276.05 754.45L1272.07 754.45L1270.08 756.51L1270.08 760.63L1272.07 762.69M1282.02 762.69L1282.02 754.45M1282.02 756.51L1284.01 754.45L1287.99 754.45L1289.98 756.51L1289.98 762.69M1301.92 756.51L1299.93 754.45L1295.95 754.45L1293.96 756.51L1293.96 760.63L1295.95 762.69L1299.93 762.69L1301.92 760.63M1305.90 762.69L1305.90 754.45M1305.90 758.57L1309.88 754.45L1311.87 754.45L1313.86 756.51M1317.84 758.57L1325.80 758.57L1325.80 756.51L1323.81 754.45L1319.83 754.45L1317.84 756.51L1317.84 760.63L1319.83 762.69L1325.80 762.69M1333.16 751.36L1333.16 760.63L1335.15 762.69L1337.14 762.69L1338.73 761.04M1331.17 754.45L1337.54 754.45M1341.72 758.57L1349.68 758.57L1349.68 756.51L1347.69 754.45L1343.71 754.45L1341.72 756.51L1341.72 760.63L1343.71 762.69L1349.68 762.69M1365.60 754.45L1365.60 760.63L1367.59 762.69L1369.58 760.63L1369.58 756.51M1369.58 760.63L1371.57 762.69L1373.56 760.63L1373.56 754.45M1385.50 754.45L1385.50 762.69M1385.50 760.63L1383.51 762.69L1379.53 762.69L1377.54 760.63L1377.54 756.51L1379.53 754.45L1383.51 754.45L1385.50 756.51M1389.87 750.33L1389.87 760.63L1391.47 762.69M1394.25 750.33L1394.25 760.63L1395.84 762.69" stroke="#3a3a3a" stroke-width="1.15" fill="none" stroke-linecap="round" stroke-linejoin="round"/>
<line x1="1045.28" y1="759.23" x2="1151.59" y2="759.23" stroke="#0a0a0a" stroke-width="1.25" />
<path d="M402.30 1251.43L405.74 1263.79L408.36 1255.55L410.99 1263.79L414.43 1251.43M418.27 1263.79L422.31 1263.79L424.33 1261.73L424.33 1257.61L422.31 1255.55L418.27 1255.55L416.25 1257.61L416.25 1261.73L418.27 1263.79M430.39 1263.79L434.43 1263.79L436.46 1261.73L436.46 1257.61L434.43 1255.55L430.39 1255.55L428.37 1257.61L428.37 1261.73L430.39 1263.79M448.58 1251.43L448.58 1263.79M448.58 1261.73L446.56 1263.79L442.52 1263.79L440.50 1261.73L440.50 1257.61L442.52 1255.55L446.56 1255.55L448.58 1257.61M461.92 1263.79L461.92 1253.49L463.94 1251.43L465.96 1251.43L467.98 1252.67M459.90 1256.17L465.96 1256.17M472.43 1251.43L472.43 1261.73L474.05 1263.79M478.49 1263.79L482.53 1263.79L484.56 1261.73L484.56 1257.61L482.53 1255.55L478.49 1255.55L476.47 1257.61L476.47 1261.73L478.49 1263.79M490.62 1263.79L494.66 1263.79L496.68 1261.73L496.68 1257.61L494.66 1255.55L490.62 1255.55L488.60 1257.61L488.60 1261.73L490.62 1263.79M500.72 1263.79L500.72 1255.55M500.72 1259.67L504.76 1255.55L506.79 1255.55L508.81 1257.61M513.46 1263.79L513.46 1255.55M513.46 1253.08L513.46 1251.64M516.89 1263.79L516.89 1255.55M516.89 1257.61L518.91 1255.55L522.95 1255.55L524.97 1257.61L524.97 1263.79M537.10 1255.55L537.10 1265.85L535.08 1267.91L531.04 1267.91L529.02 1265.85M537.10 1261.73L535.08 1263.79L531.04 1263.79L529.02 1261.73L529.02 1257.61L531.04 1255.55L535.08 1255.55L537.10 1257.61" stroke="#3a3a3a" stroke-width="1.15" fill="none" stroke-linecap="round" stroke-linejoin="round"/>
<path d="M389.16 1259.25 L256.96 1259.25 L256.96 1468.06" stroke="#0a0a0a" stroke-width="1.25" fill="none" />
<path d="M401.98 1285.73L401.98 1296.03L403.83 1298.09L407.55 1298.09L409.41 1296.03L409.41 1285.73M413.13 1298.09L413.13 1289.85M413.13 1291.91L414.99 1289.85L418.71 1289.85L420.57 1291.91L420.57 1298.09M431.72 1285.73L431.72 1298.09M431.72 1296.03L429.86 1298.09L426.14 1298.09L424.28 1296.03L424.28 1291.91L426.14 1289.85L429.86 1289.85L431.72 1291.91M435.44 1293.97L442.87 1293.97L442.87 1291.91L441.02 1289.85L437.30 1289.85L435.44 1291.91L435.44 1296.03L437.30 1298.09L442.87 1298.09M446.59 1298.09L446.59 1289.85M446.59 1293.97L450.31 1289.85L452.17 1289.85L454.03 1291.91M458.12 1285.73L458.12 1296.03L459.61 1298.09M469.27 1289.85L469.27 1298.09M469.27 1296.03L467.41 1298.09L463.70 1298.09L461.84 1296.03L461.84 1291.91L463.70 1289.85L467.41 1289.85L469.27 1291.91M472.99 1289.85L476.71 1298.09M480.43 1289.85L475.41 1301.39L473.55 1302.21M484.15 1298.09L484.15 1289.85M484.15 1291.91L486.01 1289.85L487.86 1291.91L487.86 1298.09M487.86 1291.91L489.72 1289.85L491.58 1291.91L491.58 1298.09M495.30 1293.97L502.74 1293.97L502.74 1291.91L500.88 1289.85L497.16 1289.85L495.30 1291.91L495.30 1296.03L497.16 1298.09L502.74 1298.09M506.45 1298.09L506.45 1289.85M506.45 1291.91L508.31 1289.85L512.03 1289.85L513.89 1291.91L513.89 1298.09M520.77 1286.76L520.77 1296.03L522.63 1298.09L524.49 1298.09L525.98 1296.45M518.91 1289.85L524.86 1289.85" stroke="#3a3a3a" stroke-width="1.15" fill="none" stroke-linecap="round" stroke-linejoin="round"/>
<path d="M389.43 1292.86 L268.93 1292.86 L268.93 1474.06" stroke="#0a0a0a" stroke-width="1.25" fill="none" />
<path d="M402.29 1337.49L402.29 1325.13M410.19 1337.49L410.19 1325.13M402.29 1331.31L410.19 1331.31M414.14 1329.25L418.09 1337.49M422.03 1329.25L416.70 1340.79L414.73 1341.61M433.88 1325.13L433.88 1337.49M433.88 1335.43L431.91 1337.49L427.96 1337.49L425.98 1335.43L425.98 1331.31L427.96 1329.25L431.91 1329.25L433.88 1331.31M437.83 1337.49L437.83 1329.25M437.83 1333.37L441.78 1329.25L443.75 1329.25L445.73 1331.31M451.65 1337.49L455.60 1337.49L457.57 1335.43L457.57 1331.31L455.60 1329.25L451.65 1329.25L449.68 1331.31L449.68 1335.43L451.65 1337.49M461.52 1337.49L461.52 1329.25M461.52 1331.31L463.50 1329.25L467.45 1329.25L469.42 1331.31L469.42 1337.49M473.96 1337.49L473.96 1329.25M473.96 1326.78L473.96 1325.34M485.22 1331.31L483.24 1329.25L479.29 1329.25L477.32 1331.31L477.32 1335.43L479.29 1337.49L483.24 1337.49L485.22 1335.43M501.01 1325.13L501.01 1337.49M501.01 1331.31L502.99 1329.25L506.93 1329.25L508.91 1331.31L508.91 1337.49M512.86 1333.37L520.76 1333.37L520.76 1331.31L518.78 1329.25L514.83 1329.25L512.86 1331.31L512.86 1335.43L514.83 1337.49L520.76 1337.49M532.60 1329.25L532.60 1337.49M532.60 1335.43L530.63 1337.49L526.68 1337.49L524.70 1335.43L524.70 1331.31L526.68 1329.25L530.63 1329.25L532.60 1331.31M539.91 1326.16L539.91 1335.43L541.88 1337.49L543.86 1337.49L545.44 1335.84M537.93 1329.25L544.25 1329.25M548.99 1337.49L548.99 1329.25M548.99 1326.78L548.99 1325.34M552.35 1337.49L552.35 1329.25M552.35 1331.31L554.32 1329.25L558.27 1329.25L560.24 1331.31L560.24 1337.49M572.09 1329.25L572.09 1339.55L570.12 1341.61L566.17 1341.61L564.19 1339.55M572.09 1335.43L570.12 1337.49L566.17 1337.49L564.19 1335.43L564.19 1331.31L566.17 1329.25L570.12 1329.25L572.09 1331.31" stroke="#3a3a3a" stroke-width="1.15" fill="none" stroke-linecap="round" stroke-linejoin="round"/>
<path d="M389.73 1330.16 L281.23 1330.16 L281.23 1495.87" stroke="#0a0a0a" stroke-width="1.25" fill="none" />
<path d="M401.80 1376.70L401.80 1364.34L407.82 1364.34L409.82 1366.40L409.82 1368.46L407.82 1370.52L401.80 1370.52M404.01 1370.52L409.82 1376.70M414.43 1376.70L414.43 1368.46M414.43 1365.99L414.43 1364.54M425.85 1368.46L425.85 1378.76L423.85 1380.82L419.84 1380.82L417.84 1378.76M425.85 1374.64L423.85 1376.70L419.84 1376.70L417.84 1374.64L417.84 1370.52L419.84 1368.46L423.85 1368.46L425.85 1370.52M430.46 1376.70L430.46 1368.46M430.46 1365.99L430.46 1364.54M441.88 1364.34L441.88 1376.70M441.88 1374.64L439.88 1376.70L435.87 1376.70L433.87 1374.64L433.87 1370.52L435.87 1368.46L439.88 1368.46L441.88 1370.52M457.91 1376.70L461.92 1376.70M459.92 1376.70L459.92 1364.34M457.91 1364.34L461.92 1364.34M465.93 1376.70L465.93 1368.46M465.93 1370.52L467.93 1368.46L471.94 1368.46L473.95 1370.52L473.95 1376.70M477.95 1376.70L483.97 1376.70L485.97 1374.64L483.97 1372.58L479.96 1372.58L477.95 1370.52L479.96 1368.46L485.97 1368.46M489.98 1368.46L489.98 1374.64L491.98 1376.70L495.99 1376.70L497.99 1374.64M497.99 1368.46L497.99 1376.70M502.40 1364.34L502.40 1374.64L504.00 1376.70M514.43 1368.46L514.43 1376.70M514.43 1374.64L512.42 1376.70L508.41 1376.70L506.41 1374.64L506.41 1370.52L508.41 1368.46L512.42 1368.46L514.43 1370.52M521.84 1365.37L521.84 1374.64L523.84 1376.70L525.85 1376.70L527.45 1375.05M519.84 1368.46L526.25 1368.46M531.06 1376.70L531.06 1368.46M531.06 1365.99L531.06 1364.54M536.47 1376.70L540.48 1376.70L542.48 1374.64L542.48 1370.52L540.48 1368.46L536.47 1368.46L534.46 1370.52L534.46 1374.64L536.47 1376.70M546.49 1376.70L546.49 1368.46M546.49 1370.52L548.49 1368.46L552.50 1368.46L554.50 1370.52L554.50 1376.70" stroke="#3a3a3a" stroke-width="1.15" fill="none" stroke-linecap="round" stroke-linejoin="round"/>
<path d="M390.05 1370.07 L292.95 1370.07 L292.95 1552.17" stroke="#0a0a0a" stroke-width="1.25" fill="none" />
<path d="M403.31 1402.93L407.34 1415.29L411.37 1402.93M423.45 1407.05L423.45 1415.29M423.45 1413.23L421.44 1415.29L417.41 1415.29L415.40 1413.23L415.40 1409.11L417.41 1407.05L421.44 1407.05L423.45 1409.11M427.48 1407.05L427.48 1419.41M427.48 1413.23L429.49 1415.29L433.52 1415.29L435.53 1413.23L435.53 1409.11L433.52 1407.05L429.49 1407.05L427.48 1409.11M441.58 1415.29L445.60 1415.29L447.62 1413.23L447.62 1409.11L445.60 1407.05L441.58 1407.05L439.56 1409.11L439.56 1413.23L441.58 1415.29M451.65 1415.29L451.65 1407.05M451.65 1411.17L455.67 1407.05L457.69 1407.05L459.70 1409.11M475.81 1415.29L481.85 1415.29L483.87 1413.23L483.87 1411.17L481.85 1409.11L483.87 1407.05L483.87 1404.99L481.85 1402.93L475.81 1402.93M477.83 1415.29L477.83 1402.93M477.83 1409.11L481.85 1409.11M495.95 1407.05L495.95 1415.29M495.95 1413.23L493.94 1415.29L489.91 1415.29L487.90 1413.23L487.90 1409.11L489.91 1407.05L493.94 1407.05L495.95 1409.11M499.98 1415.29L499.98 1407.05M499.98 1411.17L504.01 1407.05L506.02 1407.05L508.03 1409.11M512.06 1415.29L512.06 1407.05M512.06 1411.17L516.09 1407.05L518.10 1407.05L520.12 1409.11M524.75 1415.29L524.75 1407.05M524.75 1404.57L524.75 1403.13M528.17 1411.17L536.23 1411.17L536.23 1409.11L534.22 1407.05L530.19 1407.05L528.17 1409.11L528.17 1413.23L530.19 1415.29L536.23 1415.29M540.26 1415.29L540.26 1407.05M540.26 1411.17L544.28 1407.05L546.30 1407.05L548.31 1409.11" stroke="#3a3a3a" stroke-width="1.15" fill="none" stroke-linecap="round" stroke-linejoin="round"/>
<path d="M390.37 1409.39 L302.36 1409.39 L302.36 1580.20" stroke="#0a0a0a" stroke-width="1.25" fill="none" />
<path d="M410.43 1442.34L404.43 1442.34L402.43 1444.40L402.43 1445.43L410.43 1451.61L410.43 1452.64L408.43 1454.70L402.43 1454.70M415.03 1454.70L415.03 1446.46M415.03 1443.98L415.03 1442.54M421.83 1443.37L421.83 1452.64L423.83 1454.70L425.83 1454.70L427.43 1453.05M419.83 1446.46L426.23 1446.46M430.43 1450.58L438.43 1450.58L438.43 1448.52L436.43 1446.46L432.43 1446.46L430.43 1448.52L430.43 1452.64L432.43 1454.70L438.43 1454.70M462.43 1448.52L460.43 1446.46L456.43 1446.46L454.43 1448.52L454.43 1452.64L456.43 1454.70L460.43 1454.70L462.43 1452.64M474.43 1446.46L474.43 1454.70M474.43 1452.64L472.43 1454.70L468.43 1454.70L466.43 1452.64L466.43 1448.52L468.43 1446.46L472.43 1446.46L474.43 1448.52M478.43 1454.70L484.43 1454.70L486.43 1452.64L484.43 1450.58L480.43 1450.58L478.43 1448.52L480.43 1446.46L486.43 1446.46M493.83 1443.37L493.83 1452.64L495.83 1454.70L497.83 1454.70L499.43 1453.05M491.83 1446.46L498.23 1446.46M514.43 1454.70L520.43 1454.70L522.43 1452.64L520.43 1450.58L516.43 1450.58L514.43 1448.52L516.43 1446.46L522.43 1446.46M526.83 1442.34L526.83 1452.64L528.43 1454.70M538.83 1446.46L538.83 1454.70M538.83 1452.64L536.83 1454.70L532.83 1454.70L530.83 1452.64L530.83 1448.52L532.83 1446.46L536.83 1446.46L538.83 1448.52M542.83 1442.34L542.83 1454.70M542.83 1452.64L544.83 1454.70L548.83 1454.70L550.83 1452.64L550.83 1448.52L548.83 1446.46L544.83 1446.46L542.83 1448.52" stroke="#3a3a3a" stroke-width="1.15" fill="none" stroke-linecap="round" stroke-linejoin="round"/>
<path d="M390.46 1446.68 L316.46 1446.68 L316.46 1698.79" stroke="#0a0a0a" stroke-width="1.25" fill="none" />
<path d="M1120.78 1468.08L1123.63 1464.99L1123.63 1477.35M1129.33 1477.35L1137.73 1464.99M1144.53 1477.35L1144.53 1464.99L1137.33 1473.23L1146.93 1473.23M1155.07 1464.99L1154.37 1468.29M1157.17 1464.99L1156.47 1468.29M1164.83 1464.99L1172.43 1464.99M1169.01 1464.99L1169.01 1475.29L1167.11 1477.35L1165.21 1475.29M1178.13 1477.35L1181.93 1477.35L1183.83 1475.29L1183.83 1471.17L1181.93 1469.11L1178.13 1469.11L1176.23 1471.17L1176.23 1475.29L1178.13 1477.35M1188.20 1477.35L1188.20 1469.11M1188.20 1466.64L1188.20 1465.20M1191.43 1477.35L1191.43 1469.11M1191.43 1471.17L1193.33 1469.11L1197.13 1469.11L1199.03 1471.17L1199.03 1477.35M1206.06 1466.02L1206.06 1475.29L1207.96 1477.35L1209.86 1477.35L1211.38 1475.70M1204.16 1469.11L1210.24 1469.11" stroke="#3a3a3a" stroke-width="1.15" fill="none" stroke-linecap="round" stroke-linejoin="round"/>
<line x1="955.38" y1="1470.87" x2="1104.78" y2="1470.87" stroke="#0a0a0a" stroke-width="1.25" />
<path d="M1119.01 1549.17L1119.01 1536.81L1124.94 1536.81L1126.92 1538.87L1126.92 1540.93L1124.94 1542.99L1119.01 1542.99M1130.87 1549.17L1130.87 1540.93M1130.87 1545.05L1134.83 1540.93L1136.81 1540.93L1138.79 1542.99M1142.74 1545.05L1150.65 1545.05L1150.65 1542.99L1148.68 1540.93L1144.72 1540.93L1142.74 1542.99L1142.74 1547.11L1144.72 1549.17L1150.65 1549.17M1162.52 1542.99L1160.54 1540.93L1156.59 1540.93L1154.61 1542.99L1154.61 1547.11L1156.59 1549.17L1160.54 1549.17L1162.52 1547.11M1174.39 1540.93L1174.39 1549.17M1174.39 1547.11L1172.41 1549.17L1168.46 1549.17L1166.48 1547.11L1166.48 1542.99L1168.46 1540.93L1172.41 1540.93L1174.39 1542.99M1178.35 1549.17L1184.28 1549.17L1186.26 1547.11L1184.28 1545.05L1180.32 1545.05L1178.35 1542.99L1180.32 1540.93L1186.26 1540.93M1193.58 1537.84L1193.58 1547.11L1195.55 1549.17L1197.53 1549.17L1199.11 1547.52M1191.60 1540.93L1197.93 1540.93M1221.86 1542.99L1219.88 1540.93L1215.93 1540.93L1213.95 1542.99L1213.95 1547.11L1215.93 1549.17L1219.88 1549.17L1221.86 1547.11M1227.79 1549.17L1231.75 1549.17L1233.73 1547.11L1233.73 1542.99L1231.75 1540.93L1227.79 1540.93L1225.82 1542.99L1225.82 1547.11L1227.79 1549.17M1237.68 1549.17L1237.68 1540.93M1237.68 1542.99L1239.66 1540.93L1243.62 1540.93L1245.60 1542.99L1245.60 1549.17M1257.46 1542.99L1255.49 1540.93L1251.53 1540.93L1249.55 1542.99L1249.55 1547.11L1251.53 1549.17L1255.49 1549.17L1257.46 1547.11M1261.42 1549.17L1261.42 1540.93M1261.42 1545.05L1265.38 1540.93L1267.35 1540.93L1269.33 1542.99M1273.29 1545.05L1281.20 1545.05L1281.20 1542.99L1279.22 1540.93L1275.26 1540.93L1273.29 1542.99L1273.29 1547.11L1275.26 1549.17L1281.20 1549.17M1288.52 1537.84L1288.52 1547.11L1290.50 1549.17L1292.47 1549.17L1294.06 1547.52M1286.54 1540.93L1292.87 1540.93M1297.02 1545.05L1304.93 1545.05L1304.93 1542.99L1302.96 1540.93L1299.00 1540.93L1297.02 1542.99L1297.02 1547.11L1299.00 1549.17L1304.93 1549.17M1320.76 1540.93L1320.76 1553.29M1320.76 1547.11L1322.74 1549.17L1326.69 1549.17L1328.67 1547.11L1328.67 1542.99L1326.69 1540.93L1322.74 1540.93L1320.76 1542.99M1340.54 1540.93L1340.54 1549.17M1340.54 1547.11L1338.56 1549.17L1334.60 1549.17L1332.63 1547.11L1332.63 1542.99L1334.60 1540.93L1338.56 1540.93L1340.54 1542.99M1344.49 1549.17L1344.49 1540.93M1344.49 1542.99L1346.47 1540.93L1350.43 1540.93L1352.41 1542.99L1352.41 1549.17M1356.36 1545.05L1364.27 1545.05L1364.27 1542.99L1362.29 1540.93L1358.34 1540.93L1356.36 1542.99L1356.36 1547.11L1358.34 1549.17L1364.27 1549.17M1368.62 1536.81L1368.62 1547.11L1370.21 1549.17" stroke="#3a3a3a" stroke-width="1.15" fill="none" stroke-linecap="round" stroke-linejoin="round"/>
<line x1="1046.47" y1="1544.75" x2="1105.37" y2="1544.75" stroke="#0a0a0a" stroke-width="1.25" />
<path d="M1127.33 1577.96L1125.33 1575.90L1121.32 1575.90L1119.32 1577.96L1119.32 1586.20L1121.32 1588.26L1125.33 1588.26L1127.33 1586.20M1133.33 1588.26L1137.34 1588.26L1139.34 1586.20L1139.34 1582.08L1137.34 1580.02L1133.33 1580.02L1131.33 1582.08L1131.33 1586.20L1133.33 1588.26M1143.34 1588.26L1143.34 1580.02M1143.34 1582.08L1145.34 1580.02L1149.35 1580.02L1151.35 1582.08L1151.35 1588.26M1155.35 1588.26L1155.35 1580.02M1155.35 1582.08L1157.35 1580.02L1161.36 1580.02L1163.36 1582.08L1163.36 1588.26M1167.36 1584.14L1175.37 1584.14L1175.37 1582.08L1173.37 1580.02L1169.37 1580.02L1167.36 1582.08L1167.36 1586.20L1169.37 1588.26L1175.37 1588.26M1187.38 1582.08L1185.38 1580.02L1181.38 1580.02L1179.38 1582.08L1179.38 1586.20L1181.38 1588.26L1185.38 1588.26L1187.38 1586.20M1194.79 1576.93L1194.79 1586.20L1196.79 1588.26L1198.79 1588.26L1200.39 1586.62M1192.79 1580.02L1199.19 1580.02M1204.00 1588.26L1204.00 1580.02M1204.00 1577.55L1204.00 1576.11M1209.40 1588.26L1213.41 1588.26L1215.41 1586.20L1215.41 1582.08L1213.41 1580.02L1209.40 1580.02L1207.40 1582.08L1207.40 1586.20L1209.40 1588.26M1219.41 1588.26L1219.41 1580.02M1219.41 1582.08L1221.41 1580.02L1225.42 1580.02L1227.42 1582.08L1227.42 1588.26" stroke="#3a3a3a" stroke-width="1.15" fill="none" stroke-linecap="round" stroke-linejoin="round"/>
<line x1="956.28" y1="1584.37" x2="1105.69" y2="1584.37" stroke="#0a0a0a" stroke-width="1.25" />
</g>
</svg>
</body></html>
